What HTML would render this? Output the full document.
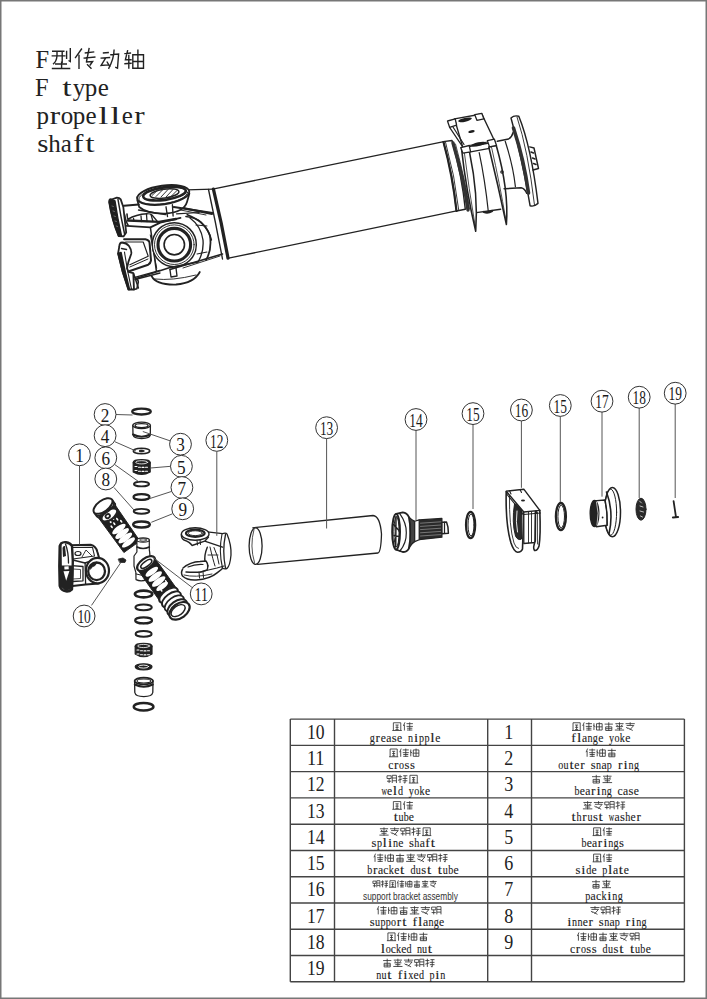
<!DOCTYPE html>
<html><head><meta charset="utf-8"><style>
html,body{margin:0;padding:0;background:#fff;}
body{width:707px;height:999px;overflow:hidden;font-family:"Liberation Sans",sans-serif;}
svg{display:block;}
</style></head><body>
<svg width="707" height="999" viewBox="0 0 707 999">
<g id="parts" fill="none" stroke="#222" stroke-width="1.2" stroke-linejoin="round" stroke-linecap="round">
<g id="asm">
 <!-- tube -->
 <path d="M213.9 188.9 L443.8 141.6" stroke-width="1.35"/>
 <path d="M228.6 258.2 L456.6 210.8" stroke-width="1.35"/>
 <!-- weld yoke neck -->
 <path d="M186.6 189.9 L213 189.1" />
 <path d="M208.5 189.5 Q216 224 222.5 259" stroke-width="1.35"/>
 <path d="M213.4 189.1 Q222 224 228 258.2" stroke-width="3.24"/>
 <path d="M176.7 206.8 L212 213.9" stroke-width="2.16"/>
 <path d="M178 209.5 L206 215" stroke-width="0.92"/>
 <path d="M170 269.5 L222.5 254" stroke-width="1.62"/>
 <path d="M183 268 L220 256" stroke-width="0.92"/>
 <!-- rear arm (weld yoke ring behind cap) -->
 <path d="M187.3 214.7 Q206 222 210 236 Q212 250 206 260" stroke-width="1.76"/>
 <path d="M190 218 Q201 226 203 240 Q204 252 198 262" stroke-width="1.35"/>
 <path d="M196 225 L207 226 M197 254 L207 252" stroke-width="1.03"/>
 <!-- top cap -->
 <path d="M137.3 200 L139.2 207 Q147 214 166 213.5 Q184 212 187 202 L189.4 193.4" stroke-width="1.76" fill="#fff"/>
 <ellipse cx="163.2" cy="195" rx="26.3" ry="9.3" transform="rotate(-8 163.2 195)" stroke-width="1.89" fill="#fff"/>
 <ellipse cx="163.2" cy="195.8" rx="24.5" ry="7.8" transform="rotate(-8 163.2 195.8)" stroke-width="0.9"/>
 <ellipse cx="164.5" cy="193.6" rx="21.5" ry="6.3" transform="rotate(-8 164.5 193.6)" stroke-width="2.6"/>
 <ellipse cx="164.5" cy="193.6" rx="14.5" ry="4.4" transform="rotate(-8 164.5 193.6)" stroke-width="1.5" fill="#fff"/>
 <path d="M152 195.5 L158 189.8 M156 196.5 L163 189.5 M161 197 L168 189.5 M166 197 L173 189.5 M171 196.5 L177 190.5" stroke-width="1" stroke="#333"/>
 <path d="M166 206.8 L167.5 216.5 M172.4 204.7 L173.1 216" stroke-width="1.35"/>
 <path d="M138.5 210 L165.4 214.6" stroke-width="1.35"/>
 <!-- flange yoke top arm -->
 <path d="M124 205.8 L138.8 204.4" stroke-width="2"/>
 <path d="M127 214 Q127.5 219 128 219.2 Q136 214.5 146.9 213.8" stroke-width="1.6"/>
 <path d="M128 220.5 L159 221.9 L176 219" stroke-width="2.4"/>
 <path d="M133.5 218.5 L134 221 M141 216 L141.5 221.5 M146.5 214.5 L147 221.5 M151 214.5 L153 221.5" stroke-width="1.3"/>
 <path d="M146.9 213.8 Q150 213.5 152 215 L157 221" stroke-width="1.2"/>
 <path d="M124.5 214.6 Q126 222 128 225" stroke-width="1.6"/>
 <!-- block -->
 <path d="M126.7 225.9 L150.4 227.4 L160.3 222.6 L180.5 217.9" stroke-width="1.8"/>
 <path d="M150.4 227.4 L156.4 271.2" stroke-width="1.5"/>
 <path d="M124.1 239.2 L145.4 239.2 Q149.6 240 149.6 243.5 L151 260.5 Q150.5 263.5 148.2 264.7 L129.8 271" stroke-width="2"/>
 <path d="M125.6 242 L143.2 242 L148.2 256.2 L129.8 264.7" stroke-width="1.2"/>
 <path d="M129.8 267 L148 259" stroke-width="1"/>
 <path d="M134.8 277.4 L160 270.4 M135 279.5 L160 273" stroke-width="1.3"/>
 <path d="M150.3 235 L156.7 268.2" stroke-width="1"/>
 <path d="M173.8 207.1 L212.7 213.1" stroke-width="2"/>
 <path d="M176.5 213.8 L199.3 212.5" stroke-width="1.2"/>
 <path d="M185.9 216.5 Q197 218 200.6 221.9 Q209 230 211.4 240" stroke-width="1.5"/>
 <!-- side cap -->
 <circle cx="174.3" cy="244.7" r="22" stroke-width="1.49" fill="#fff"/>
 <circle cx="174.3" cy="244.7" r="19.8" stroke-width="0.92"/>
 <circle cx="174.3" cy="244.7" r="16.3" stroke-width="3.10"/>
 <circle cx="174.3" cy="244.7" r="10.2" stroke-width="1.62"/>
 <!-- lower arm -->
 <path d="M136 278.4 L170 267.6 L198 262" stroke-width="1.62"/>
 <path d="M133.6 273.6 L138.4 288" stroke-width="1.49"/>
 <!-- bottom cap -->
 <path d="M151.6 276 Q156 285 176 284.5 Q194 283 199.8 272" stroke-width="1.76"/>
 <path d="M155 279 Q172 281 196 275" stroke-width="0.92"/>
 <path d="M170 270 L171 277 L177 276 L176 268" stroke-width="1.35"/>
 <!-- upper ear -->
 <path d="M109.2 202 Q109 198.5 111.5 199.5 L116.9 197.7 Q119.5 197.8 120.7 199.4 L123.3 207 L126.2 232.5 L123.5 236.4 L118.6 236 Q112 220 109.2 202Z" stroke-width="1.8" fill="#fff"/>
 <path d="M109.2 202 L111.5 199.5 L115 201 Q117.5 218 121.5 235.8 L118.6 236 Q112 220 109.2 202Z" fill="#1e1e1e" stroke="#1e1e1e" stroke-width="1.4"/>
 <path d="M118 199.5 Q121 218 124.6 234" stroke-width="1.5"/>
 <path d="M112 206 L113.5 206.5 M113 211 L114.5 211.5 M114 216 L115.5 216.5 M115 221 L116.5 221.5 M116.2 226 L117.7 226.5" stroke="#777" stroke-width="0.8"/>
 <!-- lower ear -->
 <path d="M119.2 247 Q119.5 242.5 122 242.5 Q126.3 242.8 129 246 Q132 250.5 131.2 254 L128.4 261.9 L127 268.2 L128.4 271.8 L133.3 273.2 L134 289.5 L128.4 289.5 Q122 272 118.1 253.4 Z" stroke-width="1.8" fill="#fff"/>
 <path d="M118.1 253.4 L121 252.5 Q125 272 129.5 289.5 L128.4 289.5 Q122 272 118.1 253.4Z" fill="#1e1e1e" stroke="#1e1e1e" stroke-width="1.6"/>
 <path d="M121.5 248.5 L126.5 249.5" stroke-width="1.4"/>
 <path d="M134 277 Q138.5 279.5 138.3 282 Q137.5 286 136.9 288.7 L134 289.5" stroke-width="1.6"/>
 <path d="M124.5 252 Q127 270 131.5 289" stroke-width="1.1"/>
 <!-- right end: dust cover -->
 <path d="M443.3 141.6 L452 140.5 Q462 176 465.3 209.3 L456.5 211 Q453 175 443.3 141.6Z" fill="#fff" stroke-width="1.44"/>
 <path d="M443.5 142 Q452.5 175 456.5 211" stroke-width="2.16"/>
 <path d="M445.5 142 Q455 176 458.7 209.8" stroke-width="0.90"/>
 <path d="M453 143 Q464 180 468 210" stroke-width="3.36" stroke="#333"/>
 <path d="M455.5 144 Q466 183 469.5 209" stroke-width="0.80"/>
 <!-- bracket body -->
 <path d="M463.4 152.6 L476.4 212.6 L500.7 209.2 L496.2 145.3Z" fill="#fff" stroke="none"/>
 <path d="M476.4 212.6 L500.7 209.2" stroke-width="1.44"/>
 <path d="M479.2 152.6 Q485 180 488.3 211.4" stroke-width="1.20"/>
 <path d="M484 212 Q488 213.5 492 211" stroke-width="2.40"/>
 <!-- left blade -->
 <path d="M461.4 147.6 Q466 190 475.7 231.3 Q478.5 195 469.6 152.6Z" fill="#fff" stroke-width="1.56"/>
 <path d="M464 150 Q469 190 475 225" stroke-width="0.80"/>
 <!-- right blade -->
 <path d="M488.8 147 Q498 185 506.4 224.5 Q509 190 496.2 145.3Z" fill="#fff" stroke-width="1.56"/>
 <path d="M491.5 147 Q500 185 505.5 218" stroke-width="0.80"/>
 <circle cx="502" cy="172" r="1.2" stroke-width="1.20"/>
 <!-- bracket top plate -->
 <path d="M454.5 118.9 L481.8 114 L495.1 142 L462.9 147.6 Z" fill="#fff" stroke-width="1.4"/>
 <path d="M449.6 127.3 L462.2 146.2 M453 127 L464 144.5" stroke-width="1.2"/>
 <path d="M447.5 121 L455.2 118.9 L456.6 125.2 L449.6 127.3Z" fill="#fff" stroke-width="1.3"/>
 <path d="M474.8 114.7 L481.8 113.3 L483.9 118.9 L476.9 120.3Z" fill="#fff" stroke-width="1.3"/>
 <path d="M460.8 147.6 L469.2 145.5 L470.6 151.8 L462.9 153.2Z" fill="#fff" stroke-width="1.3"/>
 <path d="M487.4 140.6 L494.4 139.2 L496.5 145.5 L489.5 146.9Z" fill="#fff" stroke-width="1.3"/>
 <path d="M469.2 145.5 L487.4 142 M470.6 151.8 L489.5 148.3" stroke-width="1.2"/>
 <ellipse cx="465" cy="119.8" rx="7" ry="1.9" transform="rotate(-12 465 119.8)" fill="#1e1e1e" stroke="none"/>
 <ellipse cx="471.5" cy="131.5" rx="3.2" ry="1.4" transform="rotate(-12 471.5 131.5)" fill="#1e1e1e" stroke="none"/>
 <ellipse cx="478.5" cy="144.1" rx="7.5" ry="1.9" transform="rotate(-12 478.5 144.1)" fill="#1e1e1e" stroke="none"/>
 <!-- neck to flange -->
 <path d="M497.3 141.3 L508.6 139 Q512 137 513.2 132.3" stroke-width="1.44"/>
 <path d="M504.1 188.8 L521.1 187.7 Q525 188.5 526.7 193.3" stroke-width="1.44"/>
 <path d="M505.2 141.3 Q513 165 515.4 186.6" stroke-width="1.20"/>
 <!-- flange disk -->
 <path d="M511 118 Q514 115 518.8 116.2 Q531 146 538 203.4 Q534 207 530.1 205.8 L527.9 193.3 Q520 150 511 118Z" fill="#fff" stroke-width="1.44"/>
 <path d="M513.5 128 Q524 160 528.5 193" stroke-width="3.60" stroke="#333"/>
 <path d="M517 117 Q528 150 534.5 205" stroke-width="0.90"/>
 <path d="M529.7 146.9 L534 148 L538.5 168.5 L533 170" stroke-width="1.44"/>
 <path d="M531 152 L533.5 153 M532.5 158 L535 159 M533.5 163.5 L536 164.5" stroke-width="1.56"/>
</g>
<g id="yoke1">
 <path d="M70.7 545.2 L90.7 544.8 Q96 546 97.4 552 L99.1 557.9" stroke-width="2"/>
 <path d="M72 547.5 L92.5 547.3 L94.5 556 L73 559" stroke-width="1.1"/>
 <ellipse cx="78" cy="553.5" rx="3" ry="2" stroke-width="1.2"/>
 <path d="M82 557 L86 550 L92 556" stroke-width="0.9"/>
 <path d="M72.8 560 L85.1 563 L99 558" stroke-width="1.5"/>
 <path d="M85.1 563 L85.6 584.2" stroke-width="1.3"/>
 <path d="M71.6 565.6 L83 566.5 L83 580.8 L72.8 581.5" stroke-width="1.3"/>
 <path d="M73 569 L80.5 569.5 L80.5 578.5 L73 579" stroke-width="0.8"/>
 <path d="M72.5 586 L85.6 584.5 L99.1 583.4" stroke-width="2"/>
 <ellipse cx="97.5" cy="570.6" rx="11.5" ry="12.7" stroke-width="2.2" fill="#fff"/>
 <ellipse cx="96.6" cy="571.3" rx="8.4" ry="8.8" stroke-width="2.3"/>
 <path d="M89.5 567 Q92 562.5 97 562.3 L95 565.5 Q92 566 90.5 569Z" fill="#222" stroke-width="1"/>
 <!-- flange -->
 <path d="M61 543.5 Q63 541.8 66 542.2 Q70.5 543 72 546 L72.8 560.5 L72.6 575 L72 589.3 Q69.5 591.8 66 591.4 Q61 590.5 59.7 586 L59.3 566 L59.7 546Z" fill="#fff" stroke="#222" stroke-width="2.4"/>
 <path d="M60.5 545 Q61 565 60.5 587" stroke="#222" stroke-width="2.2"/>
 <path d="M65.5 544 Q68.5 552 68.5 563" stroke="#222" stroke-width="1.3"/>
 <path d="M59.8 566 L72.6 566 L72.4 588 L66 591 L60 586Z" fill="#222" stroke="#222" stroke-width="1"/>
 <path d="M63.5 571.2 L69.4 570.9 L66.2 580.8Z" fill="#fff" stroke="none"/>
 <path d="M64.3 566.5 L68.6 566.2 L68.8 569.3 L64.5 569.5Z" fill="#fff" stroke="none"/>
 <path d="M62.5 548 Q63 545.5 65 546 L66 556 L63 557Z" fill="#222" stroke="none"/>
 </g>
<g id="nipple10">
 <path d="M118.5 559 L123 558 L126 560 L125 562.4 L120 562.5Z" fill="#222" stroke-width="0.8"/>
</g>
<g id="yoke12">
 <!-- weld end cylinder -->
 <path d="M207.3 531.9 L222.5 533.6" stroke-width="1.3"/>
 <path d="M222.5 533.6 Q226 532.5 227 534 Q231.5 545 231 555 Q230 566 227 568.4 Q225 569.5 222 568" fill="#fff" stroke-width="1.3"/>
 <path d="M222 534 Q218.5 551 222.5 568" stroke-width="1.1"/>
 <path d="M225.5 534.5 Q222 551 225.5 568" stroke-width="1.3"/>
 <path d="M204.7 541.2 L222.5 547.2" stroke-width="1.3"/>
 <path d="M207.3 547.2 Q204 555 205 562 L208 566" stroke-width="1.4"/>
 <path d="M210 547 Q213 560 215 566 M214 547.5 Q218 556 219 564" stroke-width="1"/>
 <path d="M208 555 L218 555" stroke-width="0.9"/>
 <!-- top ear -->
 <path d="M181.4 534.4 Q181 538.5 184 540 Q190 542 192 545.5 L204.7 541.2 L208.5 537" stroke-width="1.4" fill="#fff"/>
 <ellipse cx="195.2" cy="534" rx="13.8" ry="6.3" stroke-width="1.4" fill="#fff"/>
 <ellipse cx="195.3" cy="533.2" rx="9.3" ry="3.6" stroke-width="2.2"/>
 <ellipse cx="195.3" cy="533.2" rx="7" ry="2.4" stroke-width="0.9"/>
 <path d="M197 540.5 L197.5 545 M200 540 L200.5 544.5" stroke-width="1"/>
 <!-- bottom ear -->
 <path d="M182.6 569.2 Q180.5 573 182.5 576 Q187 580.5 196.2 580 Q210 579 217.4 572.6 L222 569" stroke-width="1.5" fill="#fff"/>
 <path d="M183 568 Q190 562 200 561.5 L206 561 Q209 565 207 570 L201 572 Q194 572.5 186 572" stroke-width="1.4" fill="#fff"/>
 <path d="M188 567 Q195 564 203 564.5" stroke-width="1.2"/>
 <path d="M200 572 L217 568 L224 566" stroke-width="1.2"/>
 <path d="M199 572 L199.5 578 M203 571.5 L203.5 577.5" stroke-width="1"/>
 <path d="M184 575 Q195 578 212 574" stroke-width="0.9"/>
</g>
<g id="tube13">
 <path d="M252.8 527.8 L373.1 515.5 Q380 516 381.5 534 Q381 552 378 553 L257.6 564.3" stroke-width="1.3" fill="#fff"/>
 <ellipse cx="255.6" cy="546.1" rx="6.5" ry="18.3" stroke-width="1.3" fill="#fff"/>
 <path d="M254 529.5 Q249.5 546 254.5 562.5" stroke-width="0.8"/>
</g>
<g id="shaft14">
 <!-- spline -->
 <path d="M419.2 519.9 L441.9 518.4 L441.9 537.2 L419.2 539.7Z" fill="#2a2a2a" stroke-width="1.2"/>
 <path d="M420.5 523.2 L441 521.8 M420.5 526.4 L441 525 M420.5 529.6 L441 528.2 M420.5 532.8 L441 531.4 M420.5 536 L441 534.6" stroke="#aaa" stroke-width="0.6"/>
 <path d="M441.9 522.3 L446.5 522 Q448.6 527 448.4 533.2 L441.9 533.7Z" fill="#fff" stroke-width="1.5"/>
 <path d="M444.5 522.2 V533.5" stroke-width="1.2"/>
 <!-- cone -->
 <path d="M408.8 516.9 Q412 520.5 414.7 521.3 L414.7 541.6 Q412 543 408.8 548.6 Z" fill="#444" stroke-width="1.3"/>
 <!-- neck band -->
 <path d="M414.7 521.3 L419.2 519.9 L419.2 539.7 L414.7 541.6Z" fill="#fff" stroke-width="1.2"/>
 <!-- flange -->
 <path d="M396.1 513.9 L402.8 512.4 Q407 513 408.8 516.9 Q410.5 524 410.2 532.7 Q410.5 542 408.8 548.6 Q407 552 402.8 552 L396.1 549.6Z" fill="#fff" stroke-width="1.8"/>
 <path d="M399.9 513.9 Q406.5 523 406.3 532.7 Q406.5 543 399.9 551" stroke-width="1.2"/>
 <ellipse cx="396.1" cy="531.7" rx="3.9" ry="17.8" stroke-width="2" fill="#fff"/>
 <ellipse cx="396.5" cy="531.7" rx="2.6" ry="15" stroke-width="1"/>
 <path d="M393.5 524.5 L399 530.5 M394 535.5 L398.8 536.5 M396 516.5 L395.7 547" stroke-width="1.5"/>
</g>
<g id="ring15a">
 <ellipse cx="470.6" cy="525" rx="4.6" ry="13.2" stroke-width="2.2"/>
 <ellipse cx="471" cy="525" rx="3" ry="11" stroke-width="1"/>
</g>
<g id="bracket16">
 <!-- left blade -->
 <path d="M506.2 492 Q505.5 525 511 543 Q514 552 517.5 552.2 Q521.5 552 522.5 549 L523.8 512" fill="#fff" stroke-width="1.6"/>
 <path d="M509.5 494.5 Q509 527 514 543 Q516 548.5 518.5 548.5" stroke-width="0.9"/>
 <path d="M514.5 504 Q511.5 522 515.5 536 Q518 541 521.5 539 L522 508Z" fill="#2a2a2a" stroke-width="1"/>
 <path d="M517 511 Q515.5 522 517.5 532" stroke="#fff" stroke-width="0.9"/>
 <!-- body -->
 <path d="M523.8 512 L523.8 543.5 L535 542.5 L535.5 511" fill="#fff" stroke-width="1.3"/>
 <path d="M528.5 512 V543 M531.5 511.5 V542.5" stroke-width="0.9"/>
 <!-- right blade -->
 <path d="M535.5 511 L535.3 541 Q532.5 548 534.5 550.5 Q537.5 551 539 546 Q540.8 535 539.8 510.4" fill="#fff" stroke-width="1.6"/>
 <path d="M537.5 512 V544" stroke-width="0.8"/>
 <!-- top plate -->
 <path d="M506.2 491.2 L523.8 489.2 L539.8 510.4 L523.8 512Z" fill="#fff" stroke-width="1.4"/>
 <path d="M507 494.5 L523.5 514.5 L540.5 513" stroke-width="1.1"/>
 <path d="M506.2 491.2 L507 494.5 M509.5 490.8 L511 494 M520 489.6 L521.5 492.5 M521 511.8 L522 514.6 M536 510.8 L537 513.5" stroke-width="1.1"/>
 <ellipse cx="523" cy="500.4" rx="2" ry="1" fill="#222" stroke="none"/>
</g>
<g id="ring15b">
 <ellipse cx="560.9" cy="516.5" rx="5" ry="13.5" stroke-width="2.3"/>
 <ellipse cx="561.2" cy="516.5" rx="3.3" ry="11.3" stroke-width="1"/>
</g>
<g id="flange17">
 <ellipse cx="612.4" cy="512.2" rx="8.1" ry="24.6" stroke-width="1.5" fill="#fff"/>
 <ellipse cx="610.6" cy="512.2" rx="6" ry="23" stroke-width="1"/>
 <path d="M606.5 492 Q614 512 609 534" stroke-width="1.6"/>
 <path d="M594.1 500.9 L605 500 Q607.5 512 607.2 525.3 L596.3 526.7" fill="#fff" stroke-width="1.4"/>
 <path d="M604.8 500.2 Q608 512 606.9 525.3" stroke-width="1"/>
 <ellipse cx="594.5" cy="513.5" rx="4.3" ry="13" stroke-width="1.4" fill="#222"/>
 <path d="M596.5 502 Q599.5 513 597 525" stroke="#fff" stroke-width="0.7"/>
 <circle cx="602.6" cy="517.5" r="0.9" fill="#222" stroke="none"/>
</g>
<g id="nut18">
 <ellipse cx="641" cy="509.2" rx="5" ry="11" stroke-width="1" fill="#2a2a2a"/>
 <path d="M639.5 501 L641.5 503 M640 506 L643 507 M640 511 L643.5 512 M640.5 516 L642.5 517" stroke="#fff" stroke-width="0.7"/>
</g>
<g id="bolt19">
 <path d="M673.6 501.2 L676 517.2" stroke-width="1.8"/>
 <path d="M673 517.5 L678 517" stroke-width="2.2"/>
</g>
<ellipse cx="141.50" cy="411.60" rx="9.3" ry="2.9" stroke-width="2.3" fill="none" />
<path d="M132.8 425.5 L133 434.5 Q133.5 438.5 141.6 438.6 Q150 438.5 150.3 434.5 L150.4 425.5" stroke-width="1.3" fill="#fff"/>
<ellipse cx="141.60" cy="425.30" rx="8.8" ry="3.2" stroke-width="1.4" fill="#fff" />
<ellipse cx="141.60" cy="425.60" rx="6.5" ry="2.0" stroke-width="1.3" fill="none" />
<path d="M133 434.5 Q141.6 439 150.3 434.5" stroke-width="2"/>
<ellipse cx="141.50" cy="451.00" rx="8.2" ry="2.7" stroke-width="1.6" fill="none" />
<ellipse cx="141.50" cy="451.00" rx="2.5" ry="0.9" stroke-width="1" fill="#222" />
<path d="M133.2 462.5 L133.2 472 Q141.6 477 150.2 472 L150.2 462.5Z" stroke-width="1.2" fill="#222"/>
<ellipse cx="141.70" cy="462.50" rx="8.5" ry="2.8" stroke-width="1.2" fill="#222" />
<ellipse cx="141.70" cy="462.30" rx="6" ry="1.6" stroke-width="0.8" fill="none" stroke="#fff"/>
<path d="M135 466.5 H137 M138.5 467.2 H140.5 M142 467.4 H144 M145.5 467.2 H147.5 M135 470.5 H137 M138.5 471.2 H140.5 M142 471.4 H144 M145.5 471.2 H147.5" stroke="#fff" stroke-width="1.1"/>
<ellipse cx="141.50" cy="484.00" rx="7.6" ry="2.4" stroke-width="1.9" fill="none" />
<ellipse cx="141.50" cy="497.00" rx="8" ry="2.8" stroke-width="2.2" fill="none" />
<path d="M133.8 498.5 Q141.5 502 149.2 498.5" stroke-width="1.3"/>
<ellipse cx="141.50" cy="511.30" rx="7.8" ry="2.4" stroke-width="1.9" fill="none" />
<ellipse cx="141.50" cy="524.50" rx="8.3" ry="3" stroke-width="2.5" fill="none" />
<ellipse cx="143.60" cy="594.00" rx="8.7" ry="3.4" stroke-width="2.6" fill="none" />
<ellipse cx="143.60" cy="607.30" rx="8.2" ry="2.9" stroke-width="2.0" fill="none" />
<ellipse cx="143.60" cy="620.40" rx="8.4" ry="3.0" stroke-width="2.3" fill="none" />
<path d="M135.5 621.5 Q143.6 625.5 151.7 621.5" stroke-width="1.3"/>
<ellipse cx="143.60" cy="633.90" rx="8.0" ry="2.8" stroke-width="2.0" fill="none" />
<path d="M135.2 646 L135.2 654 Q143.6 659.5 152 654 L152 646Z" stroke-width="1.2" fill="#222"/>
<ellipse cx="143.60" cy="646.20" rx="8.4" ry="2.8" stroke-width="1.2" fill="#222" />
<ellipse cx="143.60" cy="646.00" rx="6" ry="1.6" stroke-width="0.8" fill="none" stroke="#fff"/>
<path d="M137 650 H139 M140.5 650.7 H142.5 M144 650.9 H146 M147.5 650.7 H149.5 M137 654 H139 M140.5 654.7 H142.5 M144 654.9 H146 M147.5 654.7 H149.5" stroke="#fff" stroke-width="1.1"/>
<ellipse cx="143.60" cy="666.80" rx="8.4" ry="3.0" stroke-width="1.2" fill="#222" />
<ellipse cx="143.60" cy="666.60" rx="5.0" ry="1.5" stroke-width="0.9" fill="none" stroke="#fff"/>
<path d="M134.6 681 L134.8 692.5 Q135.5 696.6 143.8 696.6 Q152 696.6 152.8 692.5 L153 681" stroke-width="1.3" fill="#fff"/>
<ellipse cx="143.80" cy="681.00" rx="9.2" ry="3.4" stroke-width="1.8" fill="#fff" />
<path d="M134.8 684.5 Q143.8 689 152.8 684.5" stroke-width="2"/>
<ellipse cx="143.80" cy="681.00" rx="6.8" ry="2.0" stroke-width="1.1" fill="none" />
<ellipse cx="143.60" cy="706.70" rx="9.8" ry="3.8" stroke-width="2.5" fill="none" />
<path d="M97.9 517.0 L123.9 552.5 L139.9 541.1 L115.0 504.8Z" fill="#1e1e1e" stroke="#222" stroke-width="1.0"/>
<ellipse cx="118.94" cy="529.02" rx="8" ry="3.0" transform="rotate(-36 118.94 529.02)" stroke-width="0" fill="#fff" stroke="none"/>
<ellipse cx="122.12" cy="533.51" rx="8.2" ry="3.0" transform="rotate(-36 122.12 533.51)" stroke-width="0" fill="#fff" stroke="none"/>
<ellipse cx="125.30" cy="538.00" rx="8.2" ry="3.0" transform="rotate(-36 125.30 538.00)" stroke-width="0" fill="#fff" stroke="none"/>
<ellipse cx="128.48" cy="542.49" rx="7.8" ry="2.8" transform="rotate(-36 128.48 542.49)" stroke-width="0" fill="#fff" stroke="none"/>
<ellipse cx="110.38" cy="521.61" rx="1.7" ry="0.9" transform="rotate(54 110.38 521.61)" stroke-width="0" fill="#fff" stroke="none"/>
<ellipse cx="117.25" cy="519.19" rx="1.7" ry="0.9" transform="rotate(54 117.25 519.19)" stroke-width="0" fill="#fff" stroke="none"/>
<ellipse cx="114.32" cy="523.71" rx="1.7" ry="0.9" transform="rotate(54 114.32 523.71)" stroke-width="0" fill="#fff" stroke="none"/>
<ellipse cx="113.06" cy="518.48" rx="1.7" ry="0.9" transform="rotate(54 113.06 518.48)" stroke-width="0" fill="#fff" stroke="none"/>
<ellipse cx="121.19" cy="521.30" rx="1.7" ry="0.9" transform="rotate(54 121.19 521.30)" stroke-width="0" fill="#fff" stroke="none"/>
<ellipse cx="111.64" cy="526.84" rx="1.7" ry="0.9" transform="rotate(54 111.64 526.84)" stroke-width="0" fill="#fff" stroke="none"/>
<path d="M94.0 512.4 L96.9 516.4 L114.9 503.7 L112.0 499.6Z" fill="#fff" stroke="none" stroke-width="0"/>
<path d="M96.9 516.4 A11 5.5 -36 0 0 114.9 503.7" stroke-width="1.6" fill="none"/>
<path d="M94.0 512.4 L96.9 516.4 M112.0 499.6 L114.9 503.7" stroke-width="1.8"/>
<ellipse cx="109.36" cy="514.98" rx="9.2" ry="4.8" transform="rotate(-36 109.36 514.98)" stroke-width="2.4" fill="#fff" />
<ellipse cx="107.73" cy="516.13" rx="2.3" ry="1.9" transform="rotate(-36 107.73 516.13)" stroke-width="1.8" fill="#fff" />
<ellipse cx="103.00" cy="506.00" rx="11" ry="5.5" transform="rotate(-36 103.00 506.00)" stroke-width="2.0" fill="#fff" />
<path d="M95.5 514.4 A11 5.5 -36 0 0 113.4 501.7" stroke-width="1.2" fill="none"/>
<path d="M136.9 540 L136.9 552 L134 556 L134 566 L135.9 572.6 L136 579.6 Q141 582 146.8 579.6 L147 572 L150 560 Q150 553 149.3 550 L149.3 540" fill="#fff" stroke-width="1.2"/>
<ellipse cx="143.10" cy="540.00" rx="6.2" ry="2.2" stroke-width="1.2" fill="#fff" />
<ellipse cx="143.10" cy="540.00" rx="3.5" ry="1.2" stroke-width="0.9" fill="none" />
<path d="M137 547 Q143 550 149.3 547" stroke-width="1.6"/>
<path d="M136 574 Q141 576.5 147 574" stroke-width="1"/>
<path d="M137.6 569.5 L160.6 602.2 L177.7 590.1 L154.4 557.5Z" fill="#1e1e1e" stroke="#222" stroke-width="1.0"/>
<ellipse cx="151.78" cy="571.66" rx="7.5" ry="2.8" transform="rotate(-36 151.78 571.66)" stroke-width="0" fill="#fff" stroke="none"/>
<ellipse cx="155.25" cy="576.56" rx="8" ry="3.0" transform="rotate(-36 155.25 576.56)" stroke-width="0" fill="#fff" stroke="none"/>
<ellipse cx="158.72" cy="581.45" rx="8" ry="3.0" transform="rotate(-36 158.72 581.45)" stroke-width="0" fill="#fff" stroke="none"/>
<ellipse cx="162.18" cy="586.35" rx="7" ry="2.6" transform="rotate(-36 162.18 586.35)" stroke-width="0" fill="#fff" stroke="none"/>
<ellipse cx="161.47" cy="590.53" rx="1.5" ry="0.8" transform="rotate(54 161.47 590.53)" stroke-width="0" fill="#fff" stroke="none"/>
<ellipse cx="170.31" cy="589.17" rx="1.5" ry="0.8" transform="rotate(54 170.31 589.17)" stroke-width="0" fill="#fff" stroke="none"/>
<ellipse cx="165.92" cy="581.25" rx="1.5" ry="0.8" transform="rotate(54 165.92 581.25)" stroke-width="0" fill="#fff" stroke="none"/>
<ellipse cx="163.54" cy="595.19" rx="1.5" ry="0.8" transform="rotate(54 163.54 595.19)" stroke-width="0" fill="#fff" stroke="none"/>
<ellipse cx="146.00" cy="563.50" rx="10.3" ry="5.2" transform="rotate(-36 146.00 563.50)" stroke-width="2.2" fill="#fff" />
<ellipse cx="146.29" cy="563.91" rx="6.5" ry="2.6" transform="rotate(-36 146.29 563.91)" stroke-width="1.6" fill="none" />
<ellipse cx="168.54" cy="595.32" rx="10.8" ry="5.5" transform="rotate(-36 168.54 595.32)" stroke-width="2.0" fill="#fff" />
<ellipse cx="171.43" cy="599.40" rx="11" ry="5.8" transform="rotate(-36 171.43 599.40)" stroke-width="1.8" fill="#fff" />
<ellipse cx="174.32" cy="603.48" rx="11" ry="6.0" transform="rotate(-36 174.32 603.48)" stroke-width="1.8" fill="#fff" />
<ellipse cx="177.21" cy="607.56" rx="11.2" ry="6.4" transform="rotate(-36 177.21 607.56)" stroke-width="1.9" fill="#fff" />
<ellipse cx="179.52" cy="610.83" rx="11.4" ry="7.2" transform="rotate(-36 179.52 610.83)" stroke-width="2.2" fill="#fff" />
<ellipse cx="178.13" cy="610.59" rx="8" ry="4.6" transform="rotate(-36 178.13 610.59)" stroke-width="1.4" fill="none" />
</g>
<rect x="0.75" y="0.75" width="705.5" height="997.5" fill="none" stroke="#777" stroke-width="1.5"/>
<text x="35.6" y="68.1" font-family="Liberation Serif" font-size="25.5" fill="#222" textLength="13.6" lengthAdjust="spacingAndGlyphs">F</text>
<text x="35.0" y="96.3" font-family="Liberation Serif" font-size="25.5" fill="#222" textLength="13.6" lengthAdjust="spacingAndGlyphs">F</text>
<text x="66.97" y="95.6" font-family="Liberation Serif" font-size="25" fill="#222" text-anchor="middle" textLength="9.37" lengthAdjust="spacingAndGlyphs">t</text>
<text x="79.04" y="95.6" font-family="Liberation Serif" font-size="25" fill="#222" text-anchor="middle">y</text>
<text x="91.11" y="95.6" font-family="Liberation Serif" font-size="25" fill="#222" text-anchor="middle">p</text>
<text x="103.18" y="95.6" font-family="Liberation Serif" font-size="25" fill="#222" text-anchor="middle">e</text>
<text x="42.83" y="124.1" font-family="Liberation Serif" font-size="25" fill="#222" text-anchor="middle">p</text>
<text x="54.90" y="124.1" font-family="Liberation Serif" font-size="25" fill="#222" text-anchor="middle" textLength="10.41" lengthAdjust="spacingAndGlyphs">r</text>
<text x="66.97" y="124.1" font-family="Liberation Serif" font-size="25" fill="#222" text-anchor="middle">o</text>
<text x="79.04" y="124.1" font-family="Liberation Serif" font-size="25" fill="#222" text-anchor="middle">p</text>
<text x="91.11" y="124.1" font-family="Liberation Serif" font-size="25" fill="#222" text-anchor="middle">e</text>
<text x="103.18" y="124.1" font-family="Liberation Serif" font-size="25" fill="#222" text-anchor="middle" textLength="10.06" lengthAdjust="spacingAndGlyphs">l</text>
<text x="115.25" y="124.1" font-family="Liberation Serif" font-size="25" fill="#222" text-anchor="middle" textLength="10.06" lengthAdjust="spacingAndGlyphs">l</text>
<text x="127.32" y="124.1" font-family="Liberation Serif" font-size="25" fill="#222" text-anchor="middle">e</text>
<text x="139.39" y="124.1" font-family="Liberation Serif" font-size="25" fill="#222" text-anchor="middle" textLength="10.41" lengthAdjust="spacingAndGlyphs">r</text>
<text x="42.83" y="152.2" font-family="Liberation Serif" font-size="25" fill="#222" text-anchor="middle" textLength="11.18" lengthAdjust="spacingAndGlyphs">s</text>
<text x="54.58" y="152.2" font-family="Liberation Serif" font-size="25" fill="#222" text-anchor="middle">h</text>
<text x="66.33" y="152.2" font-family="Liberation Serif" font-size="25" fill="#222" text-anchor="middle">a</text>
<text x="78.08" y="152.2" font-family="Liberation Serif" font-size="25" fill="#222" text-anchor="middle" textLength="10.41" lengthAdjust="spacingAndGlyphs">f</text>
<text x="89.83" y="152.2" font-family="Liberation Serif" font-size="25" fill="#222" text-anchor="middle" textLength="9.37" lengthAdjust="spacingAndGlyphs">t</text>
<path d="M52 51.3 H64.5 M51.6 55.9 H65.5 M57 51.3 V56 Q56.5 61.5 53 64.3 M62.2 51.3 V63 M66.6 50.8 V59 M70.3 48.1 V61.5 L68.5 60.5 M55 64 H67 M61.6 61.5 V68.3 M51.8 68.5 H70.3 M81.9 48.5 L75.1 58.1 M79 54.7 V69 M84.7 53 L94.3 51.9 M83.5 58.1 L95.5 57 M89.2 47.9 L86.4 62 M85.8 62 L92.6 61.5 L89.8 65.5 M87 64.3 L91.5 68.8 M102.8 53 L108.9 52.5 M100.5 58.1 L110.2 57.5 M105.6 58.1 L101.1 65.5 L109 64.9 M106.8 61.5 L110.2 67.1 M110.2 54.7 L118.6 54.1 L117.5 68.3 L115.2 67.2 M114.1 49.6 Q114 59 108.5 68.8 M124.3 53.6 L131.1 53 M127.7 50.2 L125.4 59.8 L131.7 59.8 M128.8 54.7 V68.8 M124.3 63.8 L131.7 63.2 M132.8 54.7 H143.5 V68.3 H132.8Z M137.9 49.6 V68.3 M132.8 61.5 H143.5" fill="none" stroke="#222" stroke-width="1.4"/>
<line x1="290.3" y1="719.10" x2="684.4" y2="719.10" stroke="#444" stroke-width="1.4"/>
<line x1="290.3" y1="745.37" x2="684.4" y2="745.37" stroke="#444" stroke-width="1.4"/>
<line x1="290.3" y1="771.64" x2="684.4" y2="771.64" stroke="#444" stroke-width="1.4"/>
<line x1="290.3" y1="797.91" x2="684.4" y2="797.91" stroke="#444" stroke-width="1.4"/>
<line x1="290.3" y1="824.18" x2="684.4" y2="824.18" stroke="#444" stroke-width="1.4"/>
<line x1="290.3" y1="850.45" x2="684.4" y2="850.45" stroke="#444" stroke-width="1.4"/>
<line x1="290.3" y1="876.72" x2="684.4" y2="876.72" stroke="#444" stroke-width="1.4"/>
<line x1="290.3" y1="902.99" x2="684.4" y2="902.99" stroke="#444" stroke-width="1.4"/>
<line x1="290.3" y1="929.26" x2="684.4" y2="929.26" stroke="#444" stroke-width="1.4"/>
<line x1="290.3" y1="955.53" x2="684.4" y2="955.53" stroke="#444" stroke-width="1.4"/>
<line x1="290.3" y1="981.80" x2="684.4" y2="981.80" stroke="#444" stroke-width="1.4"/>
<line x1="290.3" y1="719.1" x2="290.3" y2="981.80" stroke="#444" stroke-width="1.4"/>
<line x1="334.5" y1="719.1" x2="334.5" y2="981.80" stroke="#444" stroke-width="1.4"/>
<line x1="487.7" y1="719.1" x2="487.7" y2="981.80" stroke="#444" stroke-width="1.4"/>
<line x1="531.5" y1="719.1" x2="531.5" y2="981.80" stroke="#444" stroke-width="1.4"/>
<line x1="684.4" y1="719.1" x2="684.4" y2="981.80" stroke="#444" stroke-width="1.4"/>
<text x="315.7" y="738.70" font-family="Liberation Serif" font-size="20" fill="#222" text-anchor="middle" textLength="17.6" lengthAdjust="spacingAndGlyphs">10</text>
<text x="372.33" y="742.40" font-family="Liberation Serif" font-size="12.6" fill="#222" stroke="#222" stroke-width="0.12" text-anchor="middle" textLength="5.04" lengthAdjust="spacingAndGlyphs">g</text>
<text x="377.79" y="742.40" font-family="Liberation Serif" font-size="12.6" fill="#222" stroke="#222" stroke-width="0.12" text-anchor="middle" textLength="4.41" lengthAdjust="spacingAndGlyphs">r</text>
<text x="383.25" y="742.40" font-family="Liberation Serif" font-size="12.6" fill="#222" stroke="#222" stroke-width="0.12" text-anchor="middle" textLength="5.15" lengthAdjust="spacingAndGlyphs">e</text>
<text x="388.72" y="742.40" font-family="Liberation Serif" font-size="12.6" fill="#222" stroke="#222" stroke-width="0.12" text-anchor="middle" textLength="5.15" lengthAdjust="spacingAndGlyphs">a</text>
<text x="394.18" y="742.40" font-family="Liberation Serif" font-size="12.6" fill="#222" stroke="#222" stroke-width="0.12" text-anchor="middle">s</text>
<text x="399.64" y="742.40" font-family="Liberation Serif" font-size="12.6" fill="#222" stroke="#222" stroke-width="0.12" text-anchor="middle" textLength="5.15" lengthAdjust="spacingAndGlyphs">e</text>
<text x="410.56" y="742.40" font-family="Liberation Serif" font-size="12.6" fill="#222" stroke="#222" stroke-width="0.12" text-anchor="middle" textLength="5.04" lengthAdjust="spacingAndGlyphs">n</text>
<text x="416.02" y="742.40" font-family="Liberation Serif" font-size="12.6" fill="#222" stroke="#222" stroke-width="0.12" text-anchor="middle" textLength="4.20" lengthAdjust="spacingAndGlyphs">i</text>
<text x="421.48" y="742.40" font-family="Liberation Serif" font-size="12.6" fill="#222" stroke="#222" stroke-width="0.12" text-anchor="middle" textLength="5.04" lengthAdjust="spacingAndGlyphs">p</text>
<text x="426.95" y="742.40" font-family="Liberation Serif" font-size="12.6" fill="#222" stroke="#222" stroke-width="0.12" text-anchor="middle" textLength="5.04" lengthAdjust="spacingAndGlyphs">p</text>
<text x="432.41" y="742.40" font-family="Liberation Serif" font-size="12.6" fill="#222" stroke="#222" stroke-width="0.12" text-anchor="middle" textLength="4.38" lengthAdjust="spacingAndGlyphs">l</text>
<text x="437.87" y="742.40" font-family="Liberation Serif" font-size="12.6" fill="#222" stroke="#222" stroke-width="0.12" text-anchor="middle" textLength="5.15" lengthAdjust="spacingAndGlyphs">e</text>
<path transform="translate(392.30,722.30) scale(1.060,0.911)" d="M1 0.5V9 M1 0.5H8V9 M3 3H6 M3 5.5H6 M4.5 3V8 M0 9H9 M3 8H6" fill="none" stroke="#333" stroke-width="0.849"/>
<path transform="translate(403.36,722.30) scale(1.060,0.911)" d="M1.5 0L0 4 M1 2.5V9 M3 1.5H9 M3 4.5H9 M6 0V9 M3.5 8.5H8.5 M3.5 6.5H8.5" fill="none" stroke="#333" stroke-width="0.849"/>
<text x="315.7" y="764.97" font-family="Liberation Serif" font-size="20" fill="#222" text-anchor="middle" textLength="17.6" lengthAdjust="spacingAndGlyphs">11</text>
<text x="390.71" y="768.67" font-family="Liberation Serif" font-size="12.6" fill="#222" stroke="#222" stroke-width="0.12" text-anchor="middle" textLength="5.15" lengthAdjust="spacingAndGlyphs">c</text>
<text x="396.13" y="768.67" font-family="Liberation Serif" font-size="12.6" fill="#222" stroke="#222" stroke-width="0.12" text-anchor="middle" textLength="4.41" lengthAdjust="spacingAndGlyphs">r</text>
<text x="401.55" y="768.67" font-family="Liberation Serif" font-size="12.6" fill="#222" stroke="#222" stroke-width="0.12" text-anchor="middle" textLength="5.04" lengthAdjust="spacingAndGlyphs">o</text>
<text x="406.97" y="768.67" font-family="Liberation Serif" font-size="12.6" fill="#222" stroke="#222" stroke-width="0.12" text-anchor="middle">s</text>
<text x="412.39" y="768.67" font-family="Liberation Serif" font-size="12.6" fill="#222" stroke="#222" stroke-width="0.12" text-anchor="middle">s</text>
<path transform="translate(389.10,748.57) scale(1.014,0.911)" d="M1 0.5V9 M1 0.5H8V9 M3 3H6 M3 5.5H6 M4.5 3V8 M0 9H9 M3 8H6" fill="none" stroke="#333" stroke-width="0.888"/>
<path transform="translate(399.69,748.57) scale(1.014,0.911)" d="M1.5 0L0 4 M1 2.5V9 M3 1.5H9 M3 4.5H9 M6 0V9 M3.5 8.5H8.5 M3.5 6.5H8.5" fill="none" stroke="#333" stroke-width="0.888"/>
<path transform="translate(410.27,748.57) scale(1.014,0.911)" d="M0.5 1V8.5 M0 3.5L2 5 M3 1.5H8.5V8.5H3Z M5.7 0V8.5 M3 5H8.5" fill="none" stroke="#333" stroke-width="0.888"/>
<text x="315.7" y="791.24" font-family="Liberation Serif" font-size="20" fill="#222" text-anchor="middle" textLength="17.6" lengthAdjust="spacingAndGlyphs">12</text>
<text x="384.21" y="794.94" font-family="Liberation Serif" font-size="12.6" fill="#222" stroke="#222" stroke-width="0.12" text-anchor="middle" textLength="5.46" lengthAdjust="spacingAndGlyphs">w</text>
<text x="389.62" y="794.94" font-family="Liberation Serif" font-size="12.6" fill="#222" stroke="#222" stroke-width="0.12" text-anchor="middle" textLength="5.15" lengthAdjust="spacingAndGlyphs">e</text>
<text x="395.03" y="794.94" font-family="Liberation Serif" font-size="12.6" fill="#222" stroke="#222" stroke-width="0.12" text-anchor="middle" textLength="4.38" lengthAdjust="spacingAndGlyphs">l</text>
<text x="400.44" y="794.94" font-family="Liberation Serif" font-size="12.6" fill="#222" stroke="#222" stroke-width="0.12" text-anchor="middle" textLength="5.04" lengthAdjust="spacingAndGlyphs">d</text>
<text x="411.26" y="794.94" font-family="Liberation Serif" font-size="12.6" fill="#222" stroke="#222" stroke-width="0.12" text-anchor="middle" textLength="5.04" lengthAdjust="spacingAndGlyphs">y</text>
<text x="416.67" y="794.94" font-family="Liberation Serif" font-size="12.6" fill="#222" stroke="#222" stroke-width="0.12" text-anchor="middle" textLength="5.04" lengthAdjust="spacingAndGlyphs">o</text>
<text x="422.08" y="794.94" font-family="Liberation Serif" font-size="12.6" fill="#222" stroke="#222" stroke-width="0.12" text-anchor="middle" textLength="5.04" lengthAdjust="spacingAndGlyphs">k</text>
<text x="427.49" y="794.94" font-family="Liberation Serif" font-size="12.6" fill="#222" stroke="#222" stroke-width="0.12" text-anchor="middle" textLength="5.15" lengthAdjust="spacingAndGlyphs">e</text>
<path transform="translate(387.00,774.84) scale(1.048,0.911)" d="M0 1H4V4H0Z M2 4V9 M5 0.5H9 M5 3.5H9 M5 6.5H9 M5 0.5V9 M0 7H4 M9 0.5V9" fill="none" stroke="#333" stroke-width="0.859"/>
<path transform="translate(397.94,774.84) scale(1.048,0.911)" d="M0 2H4 M2 0V9 M0 6L4 4.5 M5 1H9 M4.5 4H9 M4.5 6.5H9 M6.8 1V9L5.5 8.5" fill="none" stroke="#333" stroke-width="0.859"/>
<path transform="translate(408.87,774.84) scale(1.048,0.911)" d="M1 0.5V9 M1 0.5H8V9 M3 3H6 M3 5.5H6 M4.5 3V8 M0 9H9 M3 8H6" fill="none" stroke="#333" stroke-width="0.859"/>
<text x="315.7" y="817.51" font-family="Liberation Serif" font-size="20" fill="#222" text-anchor="middle" textLength="17.6" lengthAdjust="spacingAndGlyphs">13</text>
<text x="395.97" y="821.21" font-family="Liberation Serif" font-size="12.6" fill="#222" stroke="#222" stroke-width="0.12" text-anchor="middle" textLength="4.20" lengthAdjust="spacingAndGlyphs">t</text>
<text x="401.12" y="821.21" font-family="Liberation Serif" font-size="12.6" fill="#222" stroke="#222" stroke-width="0.12" text-anchor="middle" textLength="5.04" lengthAdjust="spacingAndGlyphs">u</text>
<text x="406.27" y="821.21" font-family="Liberation Serif" font-size="12.6" fill="#222" stroke="#222" stroke-width="0.12" text-anchor="middle" textLength="5.04" lengthAdjust="spacingAndGlyphs">b</text>
<text x="411.42" y="821.21" font-family="Liberation Serif" font-size="12.6" fill="#222" stroke="#222" stroke-width="0.12" text-anchor="middle" textLength="5.15" lengthAdjust="spacingAndGlyphs">e</text>
<path transform="translate(392.30,801.11) scale(1.060,0.911)" d="M1 0.5V9 M1 0.5H8V9 M3 3H6 M3 5.5H6 M4.5 3V8 M0 9H9 M3 8H6" fill="none" stroke="#333" stroke-width="0.849"/>
<path transform="translate(403.36,801.11) scale(1.060,0.911)" d="M1.5 0L0 4 M1 2.5V9 M3 1.5H9 M3 4.5H9 M6 0V9 M3.5 8.5H8.5 M3.5 6.5H8.5" fill="none" stroke="#333" stroke-width="0.849"/>
<text x="315.7" y="843.78" font-family="Liberation Serif" font-size="20" fill="#222" text-anchor="middle" textLength="17.6" lengthAdjust="spacingAndGlyphs">14</text>
<text x="374.07" y="847.48" font-family="Liberation Serif" font-size="12.6" fill="#222" stroke="#222" stroke-width="0.12" text-anchor="middle">s</text>
<text x="379.43" y="847.48" font-family="Liberation Serif" font-size="12.6" fill="#222" stroke="#222" stroke-width="0.12" text-anchor="middle" textLength="5.04" lengthAdjust="spacingAndGlyphs">p</text>
<text x="384.77" y="847.48" font-family="Liberation Serif" font-size="12.6" fill="#222" stroke="#222" stroke-width="0.12" text-anchor="middle" textLength="4.38" lengthAdjust="spacingAndGlyphs">l</text>
<text x="390.12" y="847.48" font-family="Liberation Serif" font-size="12.6" fill="#222" stroke="#222" stroke-width="0.12" text-anchor="middle" textLength="4.20" lengthAdjust="spacingAndGlyphs">i</text>
<text x="395.48" y="847.48" font-family="Liberation Serif" font-size="12.6" fill="#222" stroke="#222" stroke-width="0.12" text-anchor="middle" textLength="5.04" lengthAdjust="spacingAndGlyphs">n</text>
<text x="400.82" y="847.48" font-family="Liberation Serif" font-size="12.6" fill="#222" stroke="#222" stroke-width="0.12" text-anchor="middle" textLength="5.15" lengthAdjust="spacingAndGlyphs">e</text>
<text x="411.53" y="847.48" font-family="Liberation Serif" font-size="12.6" fill="#222" stroke="#222" stroke-width="0.12" text-anchor="middle">s</text>
<text x="416.88" y="847.48" font-family="Liberation Serif" font-size="12.6" fill="#222" stroke="#222" stroke-width="0.12" text-anchor="middle" textLength="5.04" lengthAdjust="spacingAndGlyphs">h</text>
<text x="422.23" y="847.48" font-family="Liberation Serif" font-size="12.6" fill="#222" stroke="#222" stroke-width="0.12" text-anchor="middle" textLength="5.15" lengthAdjust="spacingAndGlyphs">a</text>
<text x="427.58" y="847.48" font-family="Liberation Serif" font-size="12.6" fill="#222" stroke="#222" stroke-width="0.12" text-anchor="middle" textLength="4.62" lengthAdjust="spacingAndGlyphs">f</text>
<text x="432.93" y="847.48" font-family="Liberation Serif" font-size="12.6" fill="#222" stroke="#222" stroke-width="0.12" text-anchor="middle" textLength="4.20" lengthAdjust="spacingAndGlyphs">t</text>
<path transform="translate(379.40,827.38) scale(1.022,0.911)" d="M0.5 1.5H8.5 M4.5 0V9 M1 4.5H8 M0 8.5H9 M2 6.5H7 M1.5 3L3 4 M7.5 3L6 4" fill="none" stroke="#333" stroke-width="0.880"/>
<path transform="translate(390.07,827.38) scale(1.022,0.911)" d="M0 1.5H9 M4.5 0V3 M1 3.5L8 3.5L4 8.5 M2 6L7 9 M0.5 5.5L2.5 7" fill="none" stroke="#333" stroke-width="0.880"/>
<path transform="translate(400.75,827.38) scale(1.022,0.911)" d="M0 1H4V4H0Z M2 4V9 M5 0.5H9 M5 3.5H9 M5 6.5H9 M5 0.5V9 M0 7H4 M9 0.5V9" fill="none" stroke="#333" stroke-width="0.880"/>
<path transform="translate(411.42,827.38) scale(1.022,0.911)" d="M0 2H4 M2 0V9 M0 6L4 4.5 M5 1H9 M4.5 4H9 M4.5 6.5H9 M6.8 1V9L5.5 8.5" fill="none" stroke="#333" stroke-width="0.880"/>
<path transform="translate(422.10,827.38) scale(1.022,0.911)" d="M1 0.5V9 M1 0.5H8V9 M3 3H6 M3 5.5H6 M4.5 3V8 M0 9H9 M3 8H6" fill="none" stroke="#333" stroke-width="0.880"/>
<text x="315.7" y="870.05" font-family="Liberation Serif" font-size="20" fill="#222" text-anchor="middle" textLength="17.6" lengthAdjust="spacingAndGlyphs">15</text>
<text x="369.70" y="873.75" font-family="Liberation Serif" font-size="12.6" fill="#222" stroke="#222" stroke-width="0.12" text-anchor="middle" textLength="5.04" lengthAdjust="spacingAndGlyphs">b</text>
<text x="375.10" y="873.75" font-family="Liberation Serif" font-size="12.6" fill="#222" stroke="#222" stroke-width="0.12" text-anchor="middle" textLength="4.41" lengthAdjust="spacingAndGlyphs">r</text>
<text x="380.50" y="873.75" font-family="Liberation Serif" font-size="12.6" fill="#222" stroke="#222" stroke-width="0.12" text-anchor="middle" textLength="5.15" lengthAdjust="spacingAndGlyphs">a</text>
<text x="385.90" y="873.75" font-family="Liberation Serif" font-size="12.6" fill="#222" stroke="#222" stroke-width="0.12" text-anchor="middle" textLength="5.15" lengthAdjust="spacingAndGlyphs">c</text>
<text x="391.30" y="873.75" font-family="Liberation Serif" font-size="12.6" fill="#222" stroke="#222" stroke-width="0.12" text-anchor="middle" textLength="5.04" lengthAdjust="spacingAndGlyphs">k</text>
<text x="396.70" y="873.75" font-family="Liberation Serif" font-size="12.6" fill="#222" stroke="#222" stroke-width="0.12" text-anchor="middle" textLength="5.15" lengthAdjust="spacingAndGlyphs">e</text>
<text x="402.10" y="873.75" font-family="Liberation Serif" font-size="12.6" fill="#222" stroke="#222" stroke-width="0.12" text-anchor="middle" textLength="4.20" lengthAdjust="spacingAndGlyphs">t</text>
<text x="412.90" y="873.75" font-family="Liberation Serif" font-size="12.6" fill="#222" stroke="#222" stroke-width="0.12" text-anchor="middle" textLength="5.04" lengthAdjust="spacingAndGlyphs">d</text>
<text x="418.30" y="873.75" font-family="Liberation Serif" font-size="12.6" fill="#222" stroke="#222" stroke-width="0.12" text-anchor="middle" textLength="5.04" lengthAdjust="spacingAndGlyphs">u</text>
<text x="423.70" y="873.75" font-family="Liberation Serif" font-size="12.6" fill="#222" stroke="#222" stroke-width="0.12" text-anchor="middle">s</text>
<text x="429.10" y="873.75" font-family="Liberation Serif" font-size="12.6" fill="#222" stroke="#222" stroke-width="0.12" text-anchor="middle" textLength="4.20" lengthAdjust="spacingAndGlyphs">t</text>
<text x="439.90" y="873.75" font-family="Liberation Serif" font-size="12.6" fill="#222" stroke="#222" stroke-width="0.12" text-anchor="middle" textLength="4.20" lengthAdjust="spacingAndGlyphs">t</text>
<text x="445.30" y="873.75" font-family="Liberation Serif" font-size="12.6" fill="#222" stroke="#222" stroke-width="0.12" text-anchor="middle" textLength="5.04" lengthAdjust="spacingAndGlyphs">u</text>
<text x="450.70" y="873.75" font-family="Liberation Serif" font-size="12.6" fill="#222" stroke="#222" stroke-width="0.12" text-anchor="middle" textLength="5.04" lengthAdjust="spacingAndGlyphs">b</text>
<text x="456.10" y="873.75" font-family="Liberation Serif" font-size="12.6" fill="#222" stroke="#222" stroke-width="0.12" text-anchor="middle" textLength="5.15" lengthAdjust="spacingAndGlyphs">e</text>
<path transform="translate(374.00,853.65) scale(1.026,0.911)" d="M1.5 0L0 4 M1 2.5V9 M3 1.5H9 M3 4.5H9 M6 0V9 M3.5 8.5H8.5 M3.5 6.5H8.5" fill="none" stroke="#333" stroke-width="0.877"/>
<path transform="translate(384.71,853.65) scale(1.026,0.911)" d="M0.5 1V8.5 M0 3.5L2 5 M3 1.5H8.5V8.5H3Z M5.7 0V8.5 M3 5H8.5" fill="none" stroke="#333" stroke-width="0.877"/>
<path transform="translate(395.42,853.65) scale(1.026,0.911)" d="M0.5 2H8.5 M4.5 0V5 M1.5 5H7.5V9H1.5Z M1.5 7H7.5 M4.5 5V9" fill="none" stroke="#333" stroke-width="0.877"/>
<path transform="translate(406.13,853.65) scale(1.026,0.911)" d="M0.5 1.5H8.5 M4.5 0V9 M1 4.5H8 M0 8.5H9 M2 6.5H7 M1.5 3L3 4 M7.5 3L6 4" fill="none" stroke="#333" stroke-width="0.877"/>
<path transform="translate(416.84,853.65) scale(1.026,0.911)" d="M0 1.5H9 M4.5 0V3 M1 3.5L8 3.5L4 8.5 M2 6L7 9 M0.5 5.5L2.5 7" fill="none" stroke="#333" stroke-width="0.877"/>
<path transform="translate(427.56,853.65) scale(1.026,0.911)" d="M0 1H4V4H0Z M2 4V9 M5 0.5H9 M5 3.5H9 M5 6.5H9 M5 0.5V9 M0 7H4 M9 0.5V9" fill="none" stroke="#333" stroke-width="0.877"/>
<path transform="translate(438.27,853.65) scale(1.026,0.911)" d="M0 2H4 M2 0V9 M0 6L4 4.5 M5 1H9 M4.5 4H9 M4.5 6.5H9 M6.8 1V9L5.5 8.5" fill="none" stroke="#333" stroke-width="0.877"/>
<text x="315.7" y="896.32" font-family="Liberation Serif" font-size="20" fill="#222" text-anchor="middle" textLength="17.6" lengthAdjust="spacingAndGlyphs">16</text>
<text x="363.10" y="900.22" font-family="Liberation Sans" fill="#333" font-size="11.5" textLength="94.70" lengthAdjust="spacingAndGlyphs">support bracket assembly</text>
<path transform="translate(372.90,880.32) scale(0.777,0.778)" d="M0 1H4V4H0Z M2 4V9 M5 0.5H9 M5 3.5H9 M5 6.5H9 M5 0.5V9 M0 7H4 M9 0.5V9" fill="none" stroke="#333" stroke-width="1.029"/>
<path transform="translate(381.01,880.32) scale(0.777,0.778)" d="M0 2H4 M2 0V9 M0 6L4 4.5 M5 1H9 M4.5 4H9 M4.5 6.5H9 M6.8 1V9L5.5 8.5" fill="none" stroke="#333" stroke-width="1.029"/>
<path transform="translate(389.13,880.32) scale(0.777,0.778)" d="M1 0.5V9 M1 0.5H8V9 M3 3H6 M3 5.5H6 M4.5 3V8 M0 9H9 M3 8H6" fill="none" stroke="#333" stroke-width="1.029"/>
<path transform="translate(397.24,880.32) scale(0.777,0.778)" d="M1.5 0L0 4 M1 2.5V9 M3 1.5H9 M3 4.5H9 M6 0V9 M3.5 8.5H8.5 M3.5 6.5H8.5" fill="none" stroke="#333" stroke-width="1.029"/>
<path transform="translate(405.36,880.32) scale(0.777,0.778)" d="M0.5 1V8.5 M0 3.5L2 5 M3 1.5H8.5V8.5H3Z M5.7 0V8.5 M3 5H8.5" fill="none" stroke="#333" stroke-width="1.029"/>
<path transform="translate(413.47,880.32) scale(0.777,0.778)" d="M0.5 2H8.5 M4.5 0V5 M1.5 5H7.5V9H1.5Z M1.5 7H7.5 M4.5 5V9" fill="none" stroke="#333" stroke-width="1.029"/>
<path transform="translate(421.59,880.32) scale(0.777,0.778)" d="M0.5 1.5H8.5 M4.5 0V9 M1 4.5H8 M0 8.5H9 M2 6.5H7 M1.5 3L3 4 M7.5 3L6 4" fill="none" stroke="#333" stroke-width="1.029"/>
<path transform="translate(429.70,880.32) scale(0.777,0.778)" d="M0 1.5H9 M4.5 0V3 M1 3.5L8 3.5L4 8.5 M2 6L7 9 M0.5 5.5L2.5 7" fill="none" stroke="#333" stroke-width="1.029"/>
<text x="315.7" y="922.59" font-family="Liberation Serif" font-size="20" fill="#222" text-anchor="middle" textLength="17.6" lengthAdjust="spacingAndGlyphs">17</text>
<text x="372.27" y="926.29" font-family="Liberation Serif" font-size="12.6" fill="#222" stroke="#222" stroke-width="0.12" text-anchor="middle">s</text>
<text x="377.60" y="926.29" font-family="Liberation Serif" font-size="12.6" fill="#222" stroke="#222" stroke-width="0.12" text-anchor="middle" textLength="5.04" lengthAdjust="spacingAndGlyphs">u</text>
<text x="382.94" y="926.29" font-family="Liberation Serif" font-size="12.6" fill="#222" stroke="#222" stroke-width="0.12" text-anchor="middle" textLength="5.04" lengthAdjust="spacingAndGlyphs">p</text>
<text x="388.28" y="926.29" font-family="Liberation Serif" font-size="12.6" fill="#222" stroke="#222" stroke-width="0.12" text-anchor="middle" textLength="5.04" lengthAdjust="spacingAndGlyphs">p</text>
<text x="393.61" y="926.29" font-family="Liberation Serif" font-size="12.6" fill="#222" stroke="#222" stroke-width="0.12" text-anchor="middle" textLength="5.04" lengthAdjust="spacingAndGlyphs">o</text>
<text x="398.95" y="926.29" font-family="Liberation Serif" font-size="12.6" fill="#222" stroke="#222" stroke-width="0.12" text-anchor="middle" textLength="4.41" lengthAdjust="spacingAndGlyphs">r</text>
<text x="404.28" y="926.29" font-family="Liberation Serif" font-size="12.6" fill="#222" stroke="#222" stroke-width="0.12" text-anchor="middle" textLength="4.20" lengthAdjust="spacingAndGlyphs">t</text>
<text x="414.95" y="926.29" font-family="Liberation Serif" font-size="12.6" fill="#222" stroke="#222" stroke-width="0.12" text-anchor="middle" textLength="4.62" lengthAdjust="spacingAndGlyphs">f</text>
<text x="420.29" y="926.29" font-family="Liberation Serif" font-size="12.6" fill="#222" stroke="#222" stroke-width="0.12" text-anchor="middle" textLength="4.38" lengthAdjust="spacingAndGlyphs">l</text>
<text x="425.62" y="926.29" font-family="Liberation Serif" font-size="12.6" fill="#222" stroke="#222" stroke-width="0.12" text-anchor="middle" textLength="5.15" lengthAdjust="spacingAndGlyphs">a</text>
<text x="430.96" y="926.29" font-family="Liberation Serif" font-size="12.6" fill="#222" stroke="#222" stroke-width="0.12" text-anchor="middle" textLength="5.04" lengthAdjust="spacingAndGlyphs">n</text>
<text x="436.30" y="926.29" font-family="Liberation Serif" font-size="12.6" fill="#222" stroke="#222" stroke-width="0.12" text-anchor="middle" textLength="5.04" lengthAdjust="spacingAndGlyphs">g</text>
<text x="441.63" y="926.29" font-family="Liberation Serif" font-size="12.6" fill="#222" stroke="#222" stroke-width="0.12" text-anchor="middle" textLength="5.15" lengthAdjust="spacingAndGlyphs">e</text>
<path transform="translate(377.20,906.19) scale(1.042,0.911)" d="M1.5 0L0 4 M1 2.5V9 M3 1.5H9 M3 4.5H9 M6 0V9 M3.5 8.5H8.5 M3.5 6.5H8.5" fill="none" stroke="#333" stroke-width="0.863"/>
<path transform="translate(388.08,906.19) scale(1.042,0.911)" d="M0.5 1V8.5 M0 3.5L2 5 M3 1.5H8.5V8.5H3Z M5.7 0V8.5 M3 5H8.5" fill="none" stroke="#333" stroke-width="0.863"/>
<path transform="translate(398.97,906.19) scale(1.042,0.911)" d="M0.5 2H8.5 M4.5 0V5 M1.5 5H7.5V9H1.5Z M1.5 7H7.5 M4.5 5V9" fill="none" stroke="#333" stroke-width="0.863"/>
<path transform="translate(409.85,906.19) scale(1.042,0.911)" d="M0.5 1.5H8.5 M4.5 0V9 M1 4.5H8 M0 8.5H9 M2 6.5H7 M1.5 3L3 4 M7.5 3L6 4" fill="none" stroke="#333" stroke-width="0.863"/>
<path transform="translate(420.73,906.19) scale(1.042,0.911)" d="M0 1.5H9 M4.5 0V3 M1 3.5L8 3.5L4 8.5 M2 6L7 9 M0.5 5.5L2.5 7" fill="none" stroke="#333" stroke-width="0.863"/>
<path transform="translate(431.62,906.19) scale(1.042,0.911)" d="M0 1H4V4H0Z M2 4V9 M5 0.5H9 M5 3.5H9 M5 6.5H9 M5 0.5V9 M0 7H4 M9 0.5V9" fill="none" stroke="#333" stroke-width="0.863"/>
<text x="315.7" y="948.86" font-family="Liberation Serif" font-size="20" fill="#222" text-anchor="middle" textLength="17.6" lengthAdjust="spacingAndGlyphs">18</text>
<text x="383.00" y="952.56" font-family="Liberation Serif" font-size="12.6" fill="#222" stroke="#222" stroke-width="0.12" text-anchor="middle" textLength="4.38" lengthAdjust="spacingAndGlyphs">l</text>
<text x="388.20" y="952.56" font-family="Liberation Serif" font-size="12.6" fill="#222" stroke="#222" stroke-width="0.12" text-anchor="middle" textLength="5.04" lengthAdjust="spacingAndGlyphs">o</text>
<text x="393.40" y="952.56" font-family="Liberation Serif" font-size="12.6" fill="#222" stroke="#222" stroke-width="0.12" text-anchor="middle" textLength="5.15" lengthAdjust="spacingAndGlyphs">c</text>
<text x="398.60" y="952.56" font-family="Liberation Serif" font-size="12.6" fill="#222" stroke="#222" stroke-width="0.12" text-anchor="middle" textLength="5.04" lengthAdjust="spacingAndGlyphs">k</text>
<text x="403.80" y="952.56" font-family="Liberation Serif" font-size="12.6" fill="#222" stroke="#222" stroke-width="0.12" text-anchor="middle" textLength="5.15" lengthAdjust="spacingAndGlyphs">e</text>
<text x="409.00" y="952.56" font-family="Liberation Serif" font-size="12.6" fill="#222" stroke="#222" stroke-width="0.12" text-anchor="middle" textLength="5.04" lengthAdjust="spacingAndGlyphs">d</text>
<text x="419.40" y="952.56" font-family="Liberation Serif" font-size="12.6" fill="#222" stroke="#222" stroke-width="0.12" text-anchor="middle" textLength="5.04" lengthAdjust="spacingAndGlyphs">n</text>
<text x="424.60" y="952.56" font-family="Liberation Serif" font-size="12.6" fill="#222" stroke="#222" stroke-width="0.12" text-anchor="middle" textLength="5.04" lengthAdjust="spacingAndGlyphs">u</text>
<text x="429.80" y="952.56" font-family="Liberation Serif" font-size="12.6" fill="#222" stroke="#222" stroke-width="0.12" text-anchor="middle" textLength="4.20" lengthAdjust="spacingAndGlyphs">t</text>
<path transform="translate(386.90,932.46) scale(1.019,0.911)" d="M1 0.5V9 M1 0.5H8V9 M3 3H6 M3 5.5H6 M4.5 3V8 M0 9H9 M3 8H6" fill="none" stroke="#333" stroke-width="0.883"/>
<path transform="translate(397.54,932.46) scale(1.019,0.911)" d="M1.5 0L0 4 M1 2.5V9 M3 1.5H9 M3 4.5H9 M6 0V9 M3.5 8.5H8.5 M3.5 6.5H8.5" fill="none" stroke="#333" stroke-width="0.883"/>
<path transform="translate(408.18,932.46) scale(1.019,0.911)" d="M0.5 1V8.5 M0 3.5L2 5 M3 1.5H8.5V8.5H3Z M5.7 0V8.5 M3 5H8.5" fill="none" stroke="#333" stroke-width="0.883"/>
<path transform="translate(418.83,932.46) scale(1.019,0.911)" d="M0.5 2H8.5 M4.5 0V5 M1.5 5H7.5V9H1.5Z M1.5 7H7.5 M4.5 5V9" fill="none" stroke="#333" stroke-width="0.883"/>
<text x="315.7" y="975.13" font-family="Liberation Serif" font-size="20" fill="#222" text-anchor="middle" textLength="17.6" lengthAdjust="spacingAndGlyphs">19</text>
<text x="378.77" y="978.83" font-family="Liberation Serif" font-size="12.6" fill="#222" stroke="#222" stroke-width="0.12" text-anchor="middle" textLength="5.04" lengthAdjust="spacingAndGlyphs">n</text>
<text x="384.10" y="978.83" font-family="Liberation Serif" font-size="12.6" fill="#222" stroke="#222" stroke-width="0.12" text-anchor="middle" textLength="5.04" lengthAdjust="spacingAndGlyphs">u</text>
<text x="389.43" y="978.83" font-family="Liberation Serif" font-size="12.6" fill="#222" stroke="#222" stroke-width="0.12" text-anchor="middle" textLength="4.20" lengthAdjust="spacingAndGlyphs">t</text>
<text x="400.09" y="978.83" font-family="Liberation Serif" font-size="12.6" fill="#222" stroke="#222" stroke-width="0.12" text-anchor="middle" textLength="4.62" lengthAdjust="spacingAndGlyphs">f</text>
<text x="405.42" y="978.83" font-family="Liberation Serif" font-size="12.6" fill="#222" stroke="#222" stroke-width="0.12" text-anchor="middle" textLength="4.20" lengthAdjust="spacingAndGlyphs">i</text>
<text x="410.75" y="978.83" font-family="Liberation Serif" font-size="12.6" fill="#222" stroke="#222" stroke-width="0.12" text-anchor="middle" textLength="5.04" lengthAdjust="spacingAndGlyphs">x</text>
<text x="416.08" y="978.83" font-family="Liberation Serif" font-size="12.6" fill="#222" stroke="#222" stroke-width="0.12" text-anchor="middle" textLength="5.15" lengthAdjust="spacingAndGlyphs">e</text>
<text x="421.41" y="978.83" font-family="Liberation Serif" font-size="12.6" fill="#222" stroke="#222" stroke-width="0.12" text-anchor="middle" textLength="5.04" lengthAdjust="spacingAndGlyphs">d</text>
<text x="432.07" y="978.83" font-family="Liberation Serif" font-size="12.6" fill="#222" stroke="#222" stroke-width="0.12" text-anchor="middle" textLength="5.04" lengthAdjust="spacingAndGlyphs">p</text>
<text x="437.40" y="978.83" font-family="Liberation Serif" font-size="12.6" fill="#222" stroke="#222" stroke-width="0.12" text-anchor="middle" textLength="4.20" lengthAdjust="spacingAndGlyphs">i</text>
<text x="442.73" y="978.83" font-family="Liberation Serif" font-size="12.6" fill="#222" stroke="#222" stroke-width="0.12" text-anchor="middle" textLength="5.04" lengthAdjust="spacingAndGlyphs">n</text>
<path transform="translate(382.60,958.73) scale(1.022,0.911)" d="M0.5 2H8.5 M4.5 0V5 M1.5 5H7.5V9H1.5Z M1.5 7H7.5 M4.5 5V9" fill="none" stroke="#333" stroke-width="0.880"/>
<path transform="translate(393.27,958.73) scale(1.022,0.911)" d="M0.5 1.5H8.5 M4.5 0V9 M1 4.5H8 M0 8.5H9 M2 6.5H7 M1.5 3L3 4 M7.5 3L6 4" fill="none" stroke="#333" stroke-width="0.880"/>
<path transform="translate(403.95,958.73) scale(1.022,0.911)" d="M0 1.5H9 M4.5 0V3 M1 3.5L8 3.5L4 8.5 M2 6L7 9 M0.5 5.5L2.5 7" fill="none" stroke="#333" stroke-width="0.880"/>
<path transform="translate(414.62,958.73) scale(1.022,0.911)" d="M0 1H4V4H0Z M2 4V9 M5 0.5H9 M5 3.5H9 M5 6.5H9 M5 0.5V9 M0 7H4 M9 0.5V9" fill="none" stroke="#333" stroke-width="0.880"/>
<path transform="translate(425.30,958.73) scale(1.022,0.911)" d="M0 2H4 M2 0V9 M0 6L4 4.5 M5 1H9 M4.5 4H9 M4.5 6.5H9 M6.8 1V9L5.5 8.5" fill="none" stroke="#333" stroke-width="0.880"/>
<text x="508.8" y="738.70" font-family="Liberation Serif" font-size="20" fill="#222" text-anchor="middle" textLength="9" lengthAdjust="spacingAndGlyphs">1</text>
<text x="573.70" y="742.40" font-family="Liberation Serif" font-size="12.6" fill="#222" stroke="#222" stroke-width="0.12" text-anchor="middle" textLength="4.62" lengthAdjust="spacingAndGlyphs">f</text>
<text x="579.11" y="742.40" font-family="Liberation Serif" font-size="12.6" fill="#222" stroke="#222" stroke-width="0.12" text-anchor="middle" textLength="4.38" lengthAdjust="spacingAndGlyphs">l</text>
<text x="584.52" y="742.40" font-family="Liberation Serif" font-size="12.6" fill="#222" stroke="#222" stroke-width="0.12" text-anchor="middle" textLength="5.15" lengthAdjust="spacingAndGlyphs">a</text>
<text x="589.93" y="742.40" font-family="Liberation Serif" font-size="12.6" fill="#222" stroke="#222" stroke-width="0.12" text-anchor="middle" textLength="5.04" lengthAdjust="spacingAndGlyphs">n</text>
<text x="595.34" y="742.40" font-family="Liberation Serif" font-size="12.6" fill="#222" stroke="#222" stroke-width="0.12" text-anchor="middle" textLength="5.04" lengthAdjust="spacingAndGlyphs">g</text>
<text x="600.75" y="742.40" font-family="Liberation Serif" font-size="12.6" fill="#222" stroke="#222" stroke-width="0.12" text-anchor="middle" textLength="5.15" lengthAdjust="spacingAndGlyphs">e</text>
<text x="611.57" y="742.40" font-family="Liberation Serif" font-size="12.6" fill="#222" stroke="#222" stroke-width="0.12" text-anchor="middle" textLength="5.04" lengthAdjust="spacingAndGlyphs">y</text>
<text x="616.98" y="742.40" font-family="Liberation Serif" font-size="12.6" fill="#222" stroke="#222" stroke-width="0.12" text-anchor="middle" textLength="5.04" lengthAdjust="spacingAndGlyphs">o</text>
<text x="622.39" y="742.40" font-family="Liberation Serif" font-size="12.6" fill="#222" stroke="#222" stroke-width="0.12" text-anchor="middle" textLength="5.04" lengthAdjust="spacingAndGlyphs">k</text>
<text x="627.80" y="742.40" font-family="Liberation Serif" font-size="12.6" fill="#222" stroke="#222" stroke-width="0.12" text-anchor="middle" textLength="5.15" lengthAdjust="spacingAndGlyphs">e</text>
<path transform="translate(572.00,722.30) scale(1.026,0.911)" d="M1 0.5V9 M1 0.5H8V9 M3 3H6 M3 5.5H6 M4.5 3V8 M0 9H9 M3 8H6" fill="none" stroke="#333" stroke-width="0.877"/>
<path transform="translate(582.71,722.30) scale(1.026,0.911)" d="M1.5 0L0 4 M1 2.5V9 M3 1.5H9 M3 4.5H9 M6 0V9 M3.5 8.5H8.5 M3.5 6.5H8.5" fill="none" stroke="#333" stroke-width="0.877"/>
<path transform="translate(593.43,722.30) scale(1.026,0.911)" d="M0.5 1V8.5 M0 3.5L2 5 M3 1.5H8.5V8.5H3Z M5.7 0V8.5 M3 5H8.5" fill="none" stroke="#333" stroke-width="0.877"/>
<path transform="translate(604.14,722.30) scale(1.026,0.911)" d="M0.5 2H8.5 M4.5 0V5 M1.5 5H7.5V9H1.5Z M1.5 7H7.5 M4.5 5V9" fill="none" stroke="#333" stroke-width="0.877"/>
<path transform="translate(614.85,722.30) scale(1.026,0.911)" d="M0.5 1.5H8.5 M4.5 0V9 M1 4.5H8 M0 8.5H9 M2 6.5H7 M1.5 3L3 4 M7.5 3L6 4" fill="none" stroke="#333" stroke-width="0.877"/>
<path transform="translate(625.56,722.30) scale(1.026,0.911)" d="M0 1.5H9 M4.5 0V3 M1 3.5L8 3.5L4 8.5 M2 6L7 9 M0.5 5.5L2.5 7" fill="none" stroke="#333" stroke-width="0.877"/>
<text x="508.8" y="764.97" font-family="Liberation Serif" font-size="20" fill="#222" text-anchor="middle" textLength="9" lengthAdjust="spacingAndGlyphs">2</text>
<text x="560.70" y="768.67" font-family="Liberation Serif" font-size="12.6" fill="#222" stroke="#222" stroke-width="0.12" text-anchor="middle" textLength="5.04" lengthAdjust="spacingAndGlyphs">o</text>
<text x="566.11" y="768.67" font-family="Liberation Serif" font-size="12.6" fill="#222" stroke="#222" stroke-width="0.12" text-anchor="middle" textLength="5.04" lengthAdjust="spacingAndGlyphs">u</text>
<text x="571.52" y="768.67" font-family="Liberation Serif" font-size="12.6" fill="#222" stroke="#222" stroke-width="0.12" text-anchor="middle" textLength="4.20" lengthAdjust="spacingAndGlyphs">t</text>
<text x="576.92" y="768.67" font-family="Liberation Serif" font-size="12.6" fill="#222" stroke="#222" stroke-width="0.12" text-anchor="middle" textLength="5.15" lengthAdjust="spacingAndGlyphs">e</text>
<text x="582.33" y="768.67" font-family="Liberation Serif" font-size="12.6" fill="#222" stroke="#222" stroke-width="0.12" text-anchor="middle" textLength="4.41" lengthAdjust="spacingAndGlyphs">r</text>
<text x="593.14" y="768.67" font-family="Liberation Serif" font-size="12.6" fill="#222" stroke="#222" stroke-width="0.12" text-anchor="middle">s</text>
<text x="598.55" y="768.67" font-family="Liberation Serif" font-size="12.6" fill="#222" stroke="#222" stroke-width="0.12" text-anchor="middle" textLength="5.04" lengthAdjust="spacingAndGlyphs">n</text>
<text x="603.96" y="768.67" font-family="Liberation Serif" font-size="12.6" fill="#222" stroke="#222" stroke-width="0.12" text-anchor="middle" textLength="5.15" lengthAdjust="spacingAndGlyphs">a</text>
<text x="609.36" y="768.67" font-family="Liberation Serif" font-size="12.6" fill="#222" stroke="#222" stroke-width="0.12" text-anchor="middle" textLength="5.04" lengthAdjust="spacingAndGlyphs">p</text>
<text x="620.18" y="768.67" font-family="Liberation Serif" font-size="12.6" fill="#222" stroke="#222" stroke-width="0.12" text-anchor="middle" textLength="4.41" lengthAdjust="spacingAndGlyphs">r</text>
<text x="625.58" y="768.67" font-family="Liberation Serif" font-size="12.6" fill="#222" stroke="#222" stroke-width="0.12" text-anchor="middle" textLength="4.20" lengthAdjust="spacingAndGlyphs">i</text>
<text x="630.99" y="768.67" font-family="Liberation Serif" font-size="12.6" fill="#222" stroke="#222" stroke-width="0.12" text-anchor="middle" textLength="5.04" lengthAdjust="spacingAndGlyphs">n</text>
<text x="636.40" y="768.67" font-family="Liberation Serif" font-size="12.6" fill="#222" stroke="#222" stroke-width="0.12" text-anchor="middle" textLength="5.04" lengthAdjust="spacingAndGlyphs">g</text>
<path transform="translate(586.10,748.57) scale(1.014,0.911)" d="M1.5 0L0 4 M1 2.5V9 M3 1.5H9 M3 4.5H9 M6 0V9 M3.5 8.5H8.5 M3.5 6.5H8.5" fill="none" stroke="#333" stroke-width="0.888"/>
<path transform="translate(596.69,748.57) scale(1.014,0.911)" d="M0.5 1V8.5 M0 3.5L2 5 M3 1.5H8.5V8.5H3Z M5.7 0V8.5 M3 5H8.5" fill="none" stroke="#333" stroke-width="0.888"/>
<path transform="translate(607.27,748.57) scale(1.014,0.911)" d="M0.5 2H8.5 M4.5 0V5 M1.5 5H7.5V9H1.5Z M1.5 7H7.5 M4.5 5V9" fill="none" stroke="#333" stroke-width="0.888"/>
<text x="508.8" y="791.24" font-family="Liberation Serif" font-size="20" fill="#222" text-anchor="middle" textLength="9" lengthAdjust="spacingAndGlyphs">3</text>
<text x="576.90" y="794.94" font-family="Liberation Serif" font-size="12.6" fill="#222" stroke="#222" stroke-width="0.12" text-anchor="middle" textLength="5.04" lengthAdjust="spacingAndGlyphs">b</text>
<text x="582.31" y="794.94" font-family="Liberation Serif" font-size="12.6" fill="#222" stroke="#222" stroke-width="0.12" text-anchor="middle" textLength="5.15" lengthAdjust="spacingAndGlyphs">e</text>
<text x="587.72" y="794.94" font-family="Liberation Serif" font-size="12.6" fill="#222" stroke="#222" stroke-width="0.12" text-anchor="middle" textLength="5.15" lengthAdjust="spacingAndGlyphs">a</text>
<text x="593.13" y="794.94" font-family="Liberation Serif" font-size="12.6" fill="#222" stroke="#222" stroke-width="0.12" text-anchor="middle" textLength="4.41" lengthAdjust="spacingAndGlyphs">r</text>
<text x="598.54" y="794.94" font-family="Liberation Serif" font-size="12.6" fill="#222" stroke="#222" stroke-width="0.12" text-anchor="middle" textLength="4.20" lengthAdjust="spacingAndGlyphs">i</text>
<text x="603.95" y="794.94" font-family="Liberation Serif" font-size="12.6" fill="#222" stroke="#222" stroke-width="0.12" text-anchor="middle" textLength="5.04" lengthAdjust="spacingAndGlyphs">n</text>
<text x="609.35" y="794.94" font-family="Liberation Serif" font-size="12.6" fill="#222" stroke="#222" stroke-width="0.12" text-anchor="middle" textLength="5.04" lengthAdjust="spacingAndGlyphs">g</text>
<text x="620.17" y="794.94" font-family="Liberation Serif" font-size="12.6" fill="#222" stroke="#222" stroke-width="0.12" text-anchor="middle" textLength="5.15" lengthAdjust="spacingAndGlyphs">c</text>
<text x="625.58" y="794.94" font-family="Liberation Serif" font-size="12.6" fill="#222" stroke="#222" stroke-width="0.12" text-anchor="middle" textLength="5.15" lengthAdjust="spacingAndGlyphs">a</text>
<text x="630.99" y="794.94" font-family="Liberation Serif" font-size="12.6" fill="#222" stroke="#222" stroke-width="0.12" text-anchor="middle">s</text>
<text x="636.40" y="794.94" font-family="Liberation Serif" font-size="12.6" fill="#222" stroke="#222" stroke-width="0.12" text-anchor="middle" textLength="5.15" lengthAdjust="spacingAndGlyphs">e</text>
<path transform="translate(591.50,774.84) scale(1.060,0.911)" d="M0.5 2H8.5 M4.5 0V5 M1.5 5H7.5V9H1.5Z M1.5 7H7.5 M4.5 5V9" fill="none" stroke="#333" stroke-width="0.849"/>
<path transform="translate(602.56,774.84) scale(1.060,0.911)" d="M0.5 1.5H8.5 M4.5 0V9 M1 4.5H8 M0 8.5H9 M2 6.5H7 M1.5 3L3 4 M7.5 3L6 4" fill="none" stroke="#333" stroke-width="0.849"/>
<text x="508.8" y="817.51" font-family="Liberation Serif" font-size="20" fill="#222" text-anchor="middle" textLength="9" lengthAdjust="spacingAndGlyphs">4</text>
<text x="573.70" y="821.21" font-family="Liberation Serif" font-size="12.6" fill="#222" stroke="#222" stroke-width="0.12" text-anchor="middle" textLength="4.20" lengthAdjust="spacingAndGlyphs">t</text>
<text x="579.11" y="821.21" font-family="Liberation Serif" font-size="12.6" fill="#222" stroke="#222" stroke-width="0.12" text-anchor="middle" textLength="5.04" lengthAdjust="spacingAndGlyphs">h</text>
<text x="584.52" y="821.21" font-family="Liberation Serif" font-size="12.6" fill="#222" stroke="#222" stroke-width="0.12" text-anchor="middle" textLength="4.41" lengthAdjust="spacingAndGlyphs">r</text>
<text x="589.93" y="821.21" font-family="Liberation Serif" font-size="12.6" fill="#222" stroke="#222" stroke-width="0.12" text-anchor="middle" textLength="5.04" lengthAdjust="spacingAndGlyphs">u</text>
<text x="595.33" y="821.21" font-family="Liberation Serif" font-size="12.6" fill="#222" stroke="#222" stroke-width="0.12" text-anchor="middle">s</text>
<text x="600.74" y="821.21" font-family="Liberation Serif" font-size="12.6" fill="#222" stroke="#222" stroke-width="0.12" text-anchor="middle" textLength="4.20" lengthAdjust="spacingAndGlyphs">t</text>
<text x="611.56" y="821.21" font-family="Liberation Serif" font-size="12.6" fill="#222" stroke="#222" stroke-width="0.12" text-anchor="middle" textLength="5.46" lengthAdjust="spacingAndGlyphs">w</text>
<text x="616.97" y="821.21" font-family="Liberation Serif" font-size="12.6" fill="#222" stroke="#222" stroke-width="0.12" text-anchor="middle" textLength="5.15" lengthAdjust="spacingAndGlyphs">a</text>
<text x="622.37" y="821.21" font-family="Liberation Serif" font-size="12.6" fill="#222" stroke="#222" stroke-width="0.12" text-anchor="middle">s</text>
<text x="627.78" y="821.21" font-family="Liberation Serif" font-size="12.6" fill="#222" stroke="#222" stroke-width="0.12" text-anchor="middle" textLength="5.04" lengthAdjust="spacingAndGlyphs">h</text>
<text x="633.19" y="821.21" font-family="Liberation Serif" font-size="12.6" fill="#222" stroke="#222" stroke-width="0.12" text-anchor="middle" textLength="5.15" lengthAdjust="spacingAndGlyphs">e</text>
<text x="638.60" y="821.21" font-family="Liberation Serif" font-size="12.6" fill="#222" stroke="#222" stroke-width="0.12" text-anchor="middle" textLength="4.41" lengthAdjust="spacingAndGlyphs">r</text>
<path transform="translate(582.90,801.11) scale(1.047,0.911)" d="M0.5 1.5H8.5 M4.5 0V9 M1 4.5H8 M0 8.5H9 M2 6.5H7 M1.5 3L3 4 M7.5 3L6 4" fill="none" stroke="#333" stroke-width="0.860"/>
<path transform="translate(593.83,801.11) scale(1.047,0.911)" d="M0 1.5H9 M4.5 0V3 M1 3.5L8 3.5L4 8.5 M2 6L7 9 M0.5 5.5L2.5 7" fill="none" stroke="#333" stroke-width="0.860"/>
<path transform="translate(604.75,801.11) scale(1.047,0.911)" d="M0 1H4V4H0Z M2 4V9 M5 0.5H9 M5 3.5H9 M5 6.5H9 M5 0.5V9 M0 7H4 M9 0.5V9" fill="none" stroke="#333" stroke-width="0.860"/>
<path transform="translate(615.68,801.11) scale(1.047,0.911)" d="M0 2H4 M2 0V9 M0 6L4 4.5 M5 1H9 M4.5 4H9 M4.5 6.5H9 M6.8 1V9L5.5 8.5" fill="none" stroke="#333" stroke-width="0.860"/>
<text x="508.8" y="843.78" font-family="Liberation Serif" font-size="20" fill="#222" text-anchor="middle" textLength="9" lengthAdjust="spacingAndGlyphs">5</text>
<text x="583.97" y="847.48" font-family="Liberation Serif" font-size="12.6" fill="#222" stroke="#222" stroke-width="0.12" text-anchor="middle" textLength="5.04" lengthAdjust="spacingAndGlyphs">b</text>
<text x="589.31" y="847.48" font-family="Liberation Serif" font-size="12.6" fill="#222" stroke="#222" stroke-width="0.12" text-anchor="middle" textLength="5.15" lengthAdjust="spacingAndGlyphs">e</text>
<text x="594.64" y="847.48" font-family="Liberation Serif" font-size="12.6" fill="#222" stroke="#222" stroke-width="0.12" text-anchor="middle" textLength="5.15" lengthAdjust="spacingAndGlyphs">a</text>
<text x="599.98" y="847.48" font-family="Liberation Serif" font-size="12.6" fill="#222" stroke="#222" stroke-width="0.12" text-anchor="middle" textLength="4.41" lengthAdjust="spacingAndGlyphs">r</text>
<text x="605.32" y="847.48" font-family="Liberation Serif" font-size="12.6" fill="#222" stroke="#222" stroke-width="0.12" text-anchor="middle" textLength="4.20" lengthAdjust="spacingAndGlyphs">i</text>
<text x="610.66" y="847.48" font-family="Liberation Serif" font-size="12.6" fill="#222" stroke="#222" stroke-width="0.12" text-anchor="middle" textLength="5.04" lengthAdjust="spacingAndGlyphs">n</text>
<text x="615.99" y="847.48" font-family="Liberation Serif" font-size="12.6" fill="#222" stroke="#222" stroke-width="0.12" text-anchor="middle" textLength="5.04" lengthAdjust="spacingAndGlyphs">g</text>
<text x="621.33" y="847.48" font-family="Liberation Serif" font-size="12.6" fill="#222" stroke="#222" stroke-width="0.12" text-anchor="middle">s</text>
<path transform="translate(592.60,827.38) scale(1.003,0.911)" d="M1 0.5V9 M1 0.5H8V9 M3 3H6 M3 5.5H6 M4.5 3V8 M0 9H9 M3 8H6" fill="none" stroke="#333" stroke-width="0.897"/>
<path transform="translate(603.07,827.38) scale(1.003,0.911)" d="M1.5 0L0 4 M1 2.5V9 M3 1.5H9 M3 4.5H9 M6 0V9 M3.5 8.5H8.5 M3.5 6.5H8.5" fill="none" stroke="#333" stroke-width="0.897"/>
<text x="508.8" y="870.05" font-family="Liberation Serif" font-size="20" fill="#222" text-anchor="middle" textLength="9" lengthAdjust="spacingAndGlyphs">6</text>
<text x="577.98" y="873.75" font-family="Liberation Serif" font-size="12.6" fill="#222" stroke="#222" stroke-width="0.12" text-anchor="middle">s</text>
<text x="583.34" y="873.75" font-family="Liberation Serif" font-size="12.6" fill="#222" stroke="#222" stroke-width="0.12" text-anchor="middle" textLength="4.20" lengthAdjust="spacingAndGlyphs">i</text>
<text x="588.70" y="873.75" font-family="Liberation Serif" font-size="12.6" fill="#222" stroke="#222" stroke-width="0.12" text-anchor="middle" textLength="5.04" lengthAdjust="spacingAndGlyphs">d</text>
<text x="594.06" y="873.75" font-family="Liberation Serif" font-size="12.6" fill="#222" stroke="#222" stroke-width="0.12" text-anchor="middle" textLength="5.15" lengthAdjust="spacingAndGlyphs">e</text>
<text x="604.78" y="873.75" font-family="Liberation Serif" font-size="12.6" fill="#222" stroke="#222" stroke-width="0.12" text-anchor="middle" textLength="5.04" lengthAdjust="spacingAndGlyphs">p</text>
<text x="610.14" y="873.75" font-family="Liberation Serif" font-size="12.6" fill="#222" stroke="#222" stroke-width="0.12" text-anchor="middle" textLength="4.38" lengthAdjust="spacingAndGlyphs">l</text>
<text x="615.50" y="873.75" font-family="Liberation Serif" font-size="12.6" fill="#222" stroke="#222" stroke-width="0.12" text-anchor="middle" textLength="5.15" lengthAdjust="spacingAndGlyphs">a</text>
<text x="620.86" y="873.75" font-family="Liberation Serif" font-size="12.6" fill="#222" stroke="#222" stroke-width="0.12" text-anchor="middle" textLength="4.20" lengthAdjust="spacingAndGlyphs">t</text>
<text x="626.22" y="873.75" font-family="Liberation Serif" font-size="12.6" fill="#222" stroke="#222" stroke-width="0.12" text-anchor="middle" textLength="5.15" lengthAdjust="spacingAndGlyphs">e</text>
<path transform="translate(592.60,853.65) scale(1.003,0.911)" d="M1 0.5V9 M1 0.5H8V9 M3 3H6 M3 5.5H6 M4.5 3V8 M0 9H9 M3 8H6" fill="none" stroke="#333" stroke-width="0.897"/>
<path transform="translate(603.07,853.65) scale(1.003,0.911)" d="M1.5 0L0 4 M1 2.5V9 M3 1.5H9 M3 4.5H9 M6 0V9 M3.5 8.5H8.5 M3.5 6.5H8.5" fill="none" stroke="#333" stroke-width="0.897"/>
<text x="508.8" y="896.32" font-family="Liberation Serif" font-size="20" fill="#222" text-anchor="middle" textLength="9" lengthAdjust="spacingAndGlyphs">7</text>
<text x="587.71" y="900.02" font-family="Liberation Serif" font-size="12.6" fill="#222" stroke="#222" stroke-width="0.12" text-anchor="middle" textLength="5.04" lengthAdjust="spacingAndGlyphs">p</text>
<text x="593.12" y="900.02" font-family="Liberation Serif" font-size="12.6" fill="#222" stroke="#222" stroke-width="0.12" text-anchor="middle" textLength="5.15" lengthAdjust="spacingAndGlyphs">a</text>
<text x="598.54" y="900.02" font-family="Liberation Serif" font-size="12.6" fill="#222" stroke="#222" stroke-width="0.12" text-anchor="middle" textLength="5.15" lengthAdjust="spacingAndGlyphs">c</text>
<text x="603.95" y="900.02" font-family="Liberation Serif" font-size="12.6" fill="#222" stroke="#222" stroke-width="0.12" text-anchor="middle" textLength="5.04" lengthAdjust="spacingAndGlyphs">k</text>
<text x="609.36" y="900.02" font-family="Liberation Serif" font-size="12.6" fill="#222" stroke="#222" stroke-width="0.12" text-anchor="middle" textLength="4.20" lengthAdjust="spacingAndGlyphs">i</text>
<text x="614.78" y="900.02" font-family="Liberation Serif" font-size="12.6" fill="#222" stroke="#222" stroke-width="0.12" text-anchor="middle" textLength="5.04" lengthAdjust="spacingAndGlyphs">n</text>
<text x="620.19" y="900.02" font-family="Liberation Serif" font-size="12.6" fill="#222" stroke="#222" stroke-width="0.12" text-anchor="middle" textLength="5.04" lengthAdjust="spacingAndGlyphs">g</text>
<path transform="translate(591.50,879.92) scale(1.003,0.911)" d="M0.5 2H8.5 M4.5 0V5 M1.5 5H7.5V9H1.5Z M1.5 7H7.5 M4.5 5V9" fill="none" stroke="#333" stroke-width="0.897"/>
<path transform="translate(601.97,879.92) scale(1.003,0.911)" d="M0.5 1.5H8.5 M4.5 0V9 M1 4.5H8 M0 8.5H9 M2 6.5H7 M1.5 3L3 4 M7.5 3L6 4" fill="none" stroke="#333" stroke-width="0.897"/>
<text x="508.8" y="922.59" font-family="Liberation Serif" font-size="20" fill="#222" text-anchor="middle" textLength="9" lengthAdjust="spacingAndGlyphs">8</text>
<text x="569.27" y="926.29" font-family="Liberation Serif" font-size="12.6" fill="#222" stroke="#222" stroke-width="0.12" text-anchor="middle" textLength="4.20" lengthAdjust="spacingAndGlyphs">i</text>
<text x="574.61" y="926.29" font-family="Liberation Serif" font-size="12.6" fill="#222" stroke="#222" stroke-width="0.12" text-anchor="middle" textLength="5.04" lengthAdjust="spacingAndGlyphs">n</text>
<text x="579.95" y="926.29" font-family="Liberation Serif" font-size="12.6" fill="#222" stroke="#222" stroke-width="0.12" text-anchor="middle" textLength="5.04" lengthAdjust="spacingAndGlyphs">n</text>
<text x="585.29" y="926.29" font-family="Liberation Serif" font-size="12.6" fill="#222" stroke="#222" stroke-width="0.12" text-anchor="middle" textLength="5.15" lengthAdjust="spacingAndGlyphs">e</text>
<text x="590.63" y="926.29" font-family="Liberation Serif" font-size="12.6" fill="#222" stroke="#222" stroke-width="0.12" text-anchor="middle" textLength="4.41" lengthAdjust="spacingAndGlyphs">r</text>
<text x="601.31" y="926.29" font-family="Liberation Serif" font-size="12.6" fill="#222" stroke="#222" stroke-width="0.12" text-anchor="middle">s</text>
<text x="606.65" y="926.29" font-family="Liberation Serif" font-size="12.6" fill="#222" stroke="#222" stroke-width="0.12" text-anchor="middle" textLength="5.04" lengthAdjust="spacingAndGlyphs">n</text>
<text x="611.99" y="926.29" font-family="Liberation Serif" font-size="12.6" fill="#222" stroke="#222" stroke-width="0.12" text-anchor="middle" textLength="5.15" lengthAdjust="spacingAndGlyphs">a</text>
<text x="617.33" y="926.29" font-family="Liberation Serif" font-size="12.6" fill="#222" stroke="#222" stroke-width="0.12" text-anchor="middle" textLength="5.04" lengthAdjust="spacingAndGlyphs">p</text>
<text x="628.01" y="926.29" font-family="Liberation Serif" font-size="12.6" fill="#222" stroke="#222" stroke-width="0.12" text-anchor="middle" textLength="4.41" lengthAdjust="spacingAndGlyphs">r</text>
<text x="633.35" y="926.29" font-family="Liberation Serif" font-size="12.6" fill="#222" stroke="#222" stroke-width="0.12" text-anchor="middle" textLength="4.20" lengthAdjust="spacingAndGlyphs">i</text>
<text x="638.69" y="926.29" font-family="Liberation Serif" font-size="12.6" fill="#222" stroke="#222" stroke-width="0.12" text-anchor="middle" textLength="5.04" lengthAdjust="spacingAndGlyphs">n</text>
<text x="644.03" y="926.29" font-family="Liberation Serif" font-size="12.6" fill="#222" stroke="#222" stroke-width="0.12" text-anchor="middle" textLength="5.04" lengthAdjust="spacingAndGlyphs">g</text>
<path transform="translate(590.40,906.19) scale(1.014,0.911)" d="M0 1.5H9 M4.5 0V3 M1 3.5L8 3.5L4 8.5 M2 6L7 9 M0.5 5.5L2.5 7" fill="none" stroke="#333" stroke-width="0.888"/>
<path transform="translate(600.99,906.19) scale(1.014,0.911)" d="M0 1H4V4H0Z M2 4V9 M5 0.5H9 M5 3.5H9 M5 6.5H9 M5 0.5V9 M0 7H4 M9 0.5V9" fill="none" stroke="#333" stroke-width="0.888"/>
<path transform="translate(611.57,906.19) scale(1.014,0.911)" d="M0 2H4 M2 0V9 M0 6L4 4.5 M5 1H9 M4.5 4H9 M4.5 6.5H9 M6.8 1V9L5.5 8.5" fill="none" stroke="#333" stroke-width="0.888"/>
<text x="508.8" y="948.86" font-family="Liberation Serif" font-size="20" fill="#222" text-anchor="middle" textLength="9" lengthAdjust="spacingAndGlyphs">9</text>
<text x="572.60" y="952.56" font-family="Liberation Serif" font-size="12.6" fill="#222" stroke="#222" stroke-width="0.12" text-anchor="middle" textLength="5.15" lengthAdjust="spacingAndGlyphs">c</text>
<text x="578.01" y="952.56" font-family="Liberation Serif" font-size="12.6" fill="#222" stroke="#222" stroke-width="0.12" text-anchor="middle" textLength="4.41" lengthAdjust="spacingAndGlyphs">r</text>
<text x="583.42" y="952.56" font-family="Liberation Serif" font-size="12.6" fill="#222" stroke="#222" stroke-width="0.12" text-anchor="middle" textLength="5.04" lengthAdjust="spacingAndGlyphs">o</text>
<text x="588.82" y="952.56" font-family="Liberation Serif" font-size="12.6" fill="#222" stroke="#222" stroke-width="0.12" text-anchor="middle">s</text>
<text x="594.23" y="952.56" font-family="Liberation Serif" font-size="12.6" fill="#222" stroke="#222" stroke-width="0.12" text-anchor="middle">s</text>
<text x="605.04" y="952.56" font-family="Liberation Serif" font-size="12.6" fill="#222" stroke="#222" stroke-width="0.12" text-anchor="middle" textLength="5.04" lengthAdjust="spacingAndGlyphs">d</text>
<text x="610.45" y="952.56" font-family="Liberation Serif" font-size="12.6" fill="#222" stroke="#222" stroke-width="0.12" text-anchor="middle" textLength="5.04" lengthAdjust="spacingAndGlyphs">u</text>
<text x="615.86" y="952.56" font-family="Liberation Serif" font-size="12.6" fill="#222" stroke="#222" stroke-width="0.12" text-anchor="middle">s</text>
<text x="621.26" y="952.56" font-family="Liberation Serif" font-size="12.6" fill="#222" stroke="#222" stroke-width="0.12" text-anchor="middle" textLength="4.20" lengthAdjust="spacingAndGlyphs">t</text>
<text x="632.08" y="952.56" font-family="Liberation Serif" font-size="12.6" fill="#222" stroke="#222" stroke-width="0.12" text-anchor="middle" textLength="4.20" lengthAdjust="spacingAndGlyphs">t</text>
<text x="637.48" y="952.56" font-family="Liberation Serif" font-size="12.6" fill="#222" stroke="#222" stroke-width="0.12" text-anchor="middle" textLength="5.04" lengthAdjust="spacingAndGlyphs">u</text>
<text x="642.89" y="952.56" font-family="Liberation Serif" font-size="12.6" fill="#222" stroke="#222" stroke-width="0.12" text-anchor="middle" textLength="5.04" lengthAdjust="spacingAndGlyphs">b</text>
<text x="648.30" y="952.56" font-family="Liberation Serif" font-size="12.6" fill="#222" stroke="#222" stroke-width="0.12" text-anchor="middle" textLength="5.15" lengthAdjust="spacingAndGlyphs">e</text>
<path transform="translate(577.40,932.46) scale(1.008,0.911)" d="M1.5 0L0 4 M1 2.5V9 M3 1.5H9 M3 4.5H9 M6 0V9 M3.5 8.5H8.5 M3.5 6.5H8.5" fill="none" stroke="#333" stroke-width="0.893"/>
<path transform="translate(587.93,932.46) scale(1.008,0.911)" d="M0.5 1V8.5 M0 3.5L2 5 M3 1.5H8.5V8.5H3Z M5.7 0V8.5 M3 5H8.5" fill="none" stroke="#333" stroke-width="0.893"/>
<path transform="translate(598.45,932.46) scale(1.008,0.911)" d="M0.5 2H8.5 M4.5 0V5 M1.5 5H7.5V9H1.5Z M1.5 7H7.5 M4.5 5V9" fill="none" stroke="#333" stroke-width="0.893"/>
<path transform="translate(608.98,932.46) scale(1.008,0.911)" d="M0.5 1.5H8.5 M4.5 0V9 M1 4.5H8 M0 8.5H9 M2 6.5H7 M1.5 3L3 4 M7.5 3L6 4" fill="none" stroke="#333" stroke-width="0.893"/>
<path transform="translate(619.50,932.46) scale(1.008,0.911)" d="M0 1.5H9 M4.5 0V3 M1 3.5L8 3.5L4 8.5 M2 6L7 9 M0.5 5.5L2.5 7" fill="none" stroke="#333" stroke-width="0.893"/>
<path transform="translate(630.03,932.46) scale(1.008,0.911)" d="M0 1H4V4H0Z M2 4V9 M5 0.5H9 M5 3.5H9 M5 6.5H9 M5 0.5V9 M0 7H4 M9 0.5V9" fill="none" stroke="#333" stroke-width="0.893"/>
<line x1="79.5" y1="465.3" x2="79.5" y2="544.5" stroke="#555" stroke-width="1"/>
<line x1="115.7" y1="414.5" x2="132.6" y2="415" stroke="#555" stroke-width="1"/>
<line x1="170" y1="440.8" x2="142.8" y2="431.5" stroke="#555" stroke-width="1"/>
<line x1="114.8" y1="441.7" x2="136" y2="451" stroke="#555" stroke-width="1"/>
<line x1="170.8" y1="466.3" x2="150.5" y2="468" stroke="#555" stroke-width="1"/>
<line x1="114.8" y1="464.6" x2="138.6" y2="481.6" stroke="#555" stroke-width="1"/>
<line x1="171.7" y1="491.4" x2="149.6" y2="498.6" stroke="#555" stroke-width="1"/>
<line x1="114" y1="487.5" x2="134.3" y2="510.4" stroke="#555" stroke-width="1"/>
<line x1="172.5" y1="513.8" x2="151.3" y2="522.3" stroke="#555" stroke-width="1"/>
<line x1="91.5" y1="605.4" x2="120.9" y2="562.4" stroke="#555" stroke-width="1"/>
<line x1="192" y1="587.4" x2="152.5" y2="557.1" stroke="#555" stroke-width="1"/>
<line x1="216.8" y1="451.5" x2="216.8" y2="535.8" stroke="#555" stroke-width="1"/>
<line x1="326.6" y1="438.4" x2="326.6" y2="528.5" stroke="#555" stroke-width="1"/>
<line x1="416" y1="430" x2="416" y2="520" stroke="#555" stroke-width="1"/>
<line x1="473" y1="424.2" x2="473" y2="509" stroke="#555" stroke-width="1"/>
<line x1="521.4" y1="420.7" x2="521.4" y2="487.8" stroke="#555" stroke-width="1"/>
<line x1="560.3" y1="416.2" x2="560.3" y2="502" stroke="#555" stroke-width="1"/>
<line x1="602" y1="411.9" x2="602" y2="496.7" stroke="#555" stroke-width="1"/>
<line x1="639.2" y1="408" x2="639.2" y2="498" stroke="#555" stroke-width="1"/>
<line x1="675.2" y1="404" x2="675.2" y2="498" stroke="#555" stroke-width="1"/>
<circle cx="79.5" cy="454.8" r="10.9" fill="#fff" stroke="#333" stroke-width="1"/>
<text x="79.5" y="462.00" font-family="Liberation Serif" font-size="19.8" fill="#1a1a1a" text-anchor="middle" textLength="8.6" lengthAdjust="spacingAndGlyphs">1</text>
<circle cx="105.1" cy="414.5" r="10.9" fill="#fff" stroke="#333" stroke-width="1"/>
<text x="105.1" y="421.70" font-family="Liberation Serif" font-size="19.8" fill="#1a1a1a" text-anchor="middle" textLength="8.6" lengthAdjust="spacingAndGlyphs">2</text>
<circle cx="180.5" cy="444.2" r="10.9" fill="#fff" stroke="#333" stroke-width="1"/>
<text x="180.5" y="451.40" font-family="Liberation Serif" font-size="19.8" fill="#1a1a1a" text-anchor="middle" textLength="8.6" lengthAdjust="spacingAndGlyphs">3</text>
<circle cx="105.1" cy="435.7" r="10.9" fill="#fff" stroke="#333" stroke-width="1"/>
<text x="105.1" y="442.90" font-family="Liberation Serif" font-size="19.8" fill="#1a1a1a" text-anchor="middle" textLength="8.6" lengthAdjust="spacingAndGlyphs">4</text>
<circle cx="181.4" cy="466.3" r="10.9" fill="#fff" stroke="#333" stroke-width="1"/>
<text x="181.4" y="473.50" font-family="Liberation Serif" font-size="19.8" fill="#1a1a1a" text-anchor="middle" textLength="8.6" lengthAdjust="spacingAndGlyphs">5</text>
<circle cx="105.8" cy="457.8" r="10.9" fill="#fff" stroke="#333" stroke-width="1"/>
<text x="105.8" y="465.00" font-family="Liberation Serif" font-size="19.8" fill="#1a1a1a" text-anchor="middle" textLength="8.6" lengthAdjust="spacingAndGlyphs">6</text>
<circle cx="181.9" cy="487.5" r="10.9" fill="#fff" stroke="#333" stroke-width="1"/>
<text x="181.9" y="494.70" font-family="Liberation Serif" font-size="19.8" fill="#1a1a1a" text-anchor="middle" textLength="8.6" lengthAdjust="spacingAndGlyphs">7</text>
<circle cx="105.8" cy="479" r="10.9" fill="#fff" stroke="#333" stroke-width="1"/>
<text x="105.8" y="486.20" font-family="Liberation Serif" font-size="19.8" fill="#1a1a1a" text-anchor="middle" textLength="8.6" lengthAdjust="spacingAndGlyphs">8</text>
<circle cx="182.7" cy="508.8" r="10.9" fill="#fff" stroke="#333" stroke-width="1"/>
<text x="182.7" y="516.00" font-family="Liberation Serif" font-size="19.8" fill="#1a1a1a" text-anchor="middle" textLength="8.6" lengthAdjust="spacingAndGlyphs">9</text>
<circle cx="84.1" cy="616" r="10.9" fill="#fff" stroke="#333" stroke-width="1"/>
<text x="84.1" y="623.20" font-family="Liberation Serif" font-size="19.8" fill="#1a1a1a" text-anchor="middle" textLength="13.4" lengthAdjust="spacingAndGlyphs">10</text>
<circle cx="201.2" cy="593.9" r="10.9" fill="#fff" stroke="#333" stroke-width="1"/>
<text x="201.2" y="601.10" font-family="Liberation Serif" font-size="19.8" fill="#1a1a1a" text-anchor="middle" textLength="13.4" lengthAdjust="spacingAndGlyphs">11</text>
<circle cx="216.8" cy="440.4" r="10.9" fill="#fff" stroke="#333" stroke-width="1"/>
<text x="216.8" y="447.60" font-family="Liberation Serif" font-size="19.8" fill="#1a1a1a" text-anchor="middle" textLength="13.4" lengthAdjust="spacingAndGlyphs">12</text>
<circle cx="326.6" cy="427.7" r="10.9" fill="#fff" stroke="#333" stroke-width="1"/>
<text x="326.6" y="434.90" font-family="Liberation Serif" font-size="19.8" fill="#1a1a1a" text-anchor="middle" textLength="13.4" lengthAdjust="spacingAndGlyphs">13</text>
<circle cx="416" cy="419.5" r="10.9" fill="#fff" stroke="#333" stroke-width="1"/>
<text x="416" y="426.70" font-family="Liberation Serif" font-size="19.8" fill="#1a1a1a" text-anchor="middle" textLength="13.4" lengthAdjust="spacingAndGlyphs">14</text>
<circle cx="473" cy="413.6" r="10.9" fill="#fff" stroke="#333" stroke-width="1"/>
<text x="473" y="420.80" font-family="Liberation Serif" font-size="19.8" fill="#1a1a1a" text-anchor="middle" textLength="13.4" lengthAdjust="spacingAndGlyphs">15</text>
<circle cx="521.4" cy="410" r="10.9" fill="#fff" stroke="#333" stroke-width="1"/>
<text x="521.4" y="417.20" font-family="Liberation Serif" font-size="19.8" fill="#1a1a1a" text-anchor="middle" textLength="13.4" lengthAdjust="spacingAndGlyphs">16</text>
<circle cx="560.3" cy="405.5" r="10.9" fill="#fff" stroke="#333" stroke-width="1"/>
<text x="560.3" y="412.70" font-family="Liberation Serif" font-size="19.8" fill="#1a1a1a" text-anchor="middle" textLength="13.4" lengthAdjust="spacingAndGlyphs">15</text>
<circle cx="602" cy="401.2" r="10.9" fill="#fff" stroke="#333" stroke-width="1"/>
<text x="602" y="408.40" font-family="Liberation Serif" font-size="19.8" fill="#1a1a1a" text-anchor="middle" textLength="13.4" lengthAdjust="spacingAndGlyphs">17</text>
<circle cx="639.2" cy="397.2" r="10.9" fill="#fff" stroke="#333" stroke-width="1"/>
<text x="639.2" y="404.40" font-family="Liberation Serif" font-size="19.8" fill="#1a1a1a" text-anchor="middle" textLength="13.4" lengthAdjust="spacingAndGlyphs">18</text>
<circle cx="675.2" cy="393.2" r="10.9" fill="#fff" stroke="#333" stroke-width="1"/>
<text x="675.2" y="400.40" font-family="Liberation Serif" font-size="19.8" fill="#1a1a1a" text-anchor="middle" textLength="13.4" lengthAdjust="spacingAndGlyphs">19</text>
</svg></body></html>
